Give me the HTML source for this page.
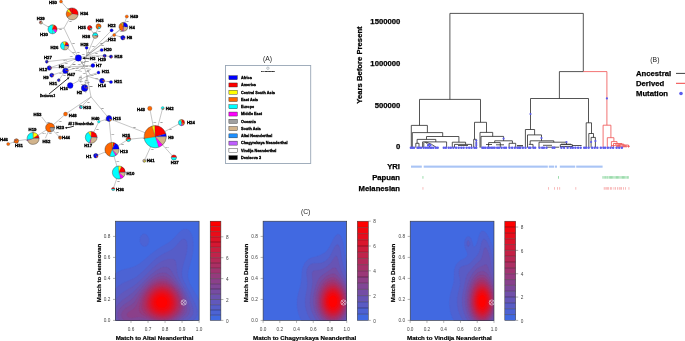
<!DOCTYPE html><html><head><meta charset="utf-8"><style>html,body{margin:0;padding:0;background:#fff;}svg{display:block;will-change:transform}text{font-family:"Liberation Sans",sans-serif;}.tk{font-size:4.7px;fill:#444}.ax{font-size:6.2px;font-weight:bold;fill:#000;stroke:#000;stroke-width:0.2px}.lab{font-size:6.8px;fill:#222}.dn{font-size:7.7px;font-weight:bold;fill:#000;stroke:#000;stroke-width:0.25px}.nl{font-size:4.3px;font-weight:bold;fill:#000;stroke:#000;stroke-width:0.36px}.mu{font-size:2.3px;fill:#555;font-weight:bold}.tiny{font-size:2.9px;font-weight:bold;fill:#000;stroke:#000;stroke-width:0.28px}.lg{font-size:3.8px;font-weight:bold;fill:#000;stroke:#000;stroke-width:0.3px}</style></head><body><svg width="685" height="341" viewBox="0 0 685 341"><rect width="685" height="341" fill="#fff"/>
<rect x="115.5" y="221.2" width="83.60" height="99.20" fill="#4169e1"/>
<clipPath id="cp115"><rect x="115.5" y="221.2" width="83.60" height="99.20"/></clipPath><g clip-path="url(#cp115)">
<path d="M199.5,320.7 166.5,321.0 115.5,320.9 115.3,320.7 115.2,314.7 115.5,273.6 118.5,271.6 121.5,270.2 124.5,269.2 130.5,267.7 133.0,267.0 135.5,266.0 138.0,264.6 140.0,263.3 142.0,261.7 150.5,254.4 155.0,250.9 160.0,247.5 168.0,242.9 171.0,240.8 174.0,238.1 179.0,232.6 181.5,230.4 183.5,229.4 185.0,229.0 186.5,229.0 188.0,229.6 189.0,230.3 190.2,231.7 191.1,233.2 192.0,235.2 192.5,237.2 193.0,239.7 193.3,242.2 193.4,245.2 193.2,250.2 192.4,255.2 191.4,259.7 189.0,268.2 188.2,271.7 187.9,274.7 188.0,277.2 188.4,279.2 188.8,280.7 189.5,282.5 190.5,284.7 194.0,291.1 199.5,300.4 199.6,311.7 199.5,320.7ZM146.0,246.2 145.5,246.4 144.5,246.5 143.5,246.3 142.5,245.8 141.5,244.9 141.0,244.2 140.5,243.2 140.0,241.7 139.9,240.7 139.9,239.2 140.2,237.7 140.5,236.7 141.1,235.7 142.0,234.7 142.5,234.3 143.5,233.9 144.0,233.8 145.0,233.9 146.0,234.3 146.6,234.7 147.1,235.2 147.8,236.2 148.3,237.2 148.7,238.7 148.8,239.7 148.8,241.2 148.4,243.2 148.0,244.1 147.5,244.9 146.8,245.7 146.0,246.2Z" fill="#4c63d4" stroke="#4c63d4" stroke-width="0.3"/>
<path d="M192.5,320.7 164.5,321.0 115.5,320.9 115.3,320.7 115.3,314.7 115.5,288.6 118.5,285.9 121.5,283.9 124.5,282.4 132.5,279.1 135.0,277.7 137.0,276.4 139.0,274.8 141.5,272.6 151.0,263.1 154.0,260.3 156.5,258.3 159.0,256.5 162.0,254.6 164.5,253.3 170.0,250.6 171.5,249.8 173.0,248.8 175.5,246.5 180.0,241.2 181.0,240.2 182.0,239.5 183.5,238.9 184.5,239.0 185.0,239.2 185.5,239.6 186.0,240.2 186.6,241.2 187.0,242.4 187.4,245.2 187.3,248.2 186.9,251.2 186.3,254.2 183.4,264.2 182.4,268.2 181.9,271.7 182.0,274.7 182.5,277.7 183.6,280.7 185.1,283.7 189.6,292.2 194.9,303.2 196.4,306.7 197.1,309.2 197.4,311.2 197.4,312.7 197.2,314.2 196.7,315.7 196.0,317.2 194.9,318.7 193.4,320.2 192.8,320.7 192.5,320.7Z" fill="#565dc8" stroke="#565dc8" stroke-width="0.3"/>
<path d="M185.5,320.7 163.0,321.0 126.5,320.9 115.5,320.8 115.4,314.7 115.5,299.8 117.0,297.9 118.5,296.2 120.0,294.8 121.9,293.2 125.0,291.1 132.5,286.7 135.0,284.9 137.5,282.9 142.0,278.8 152.5,268.4 155.5,265.7 158.0,263.8 160.0,262.4 162.0,261.3 164.0,260.4 166.0,259.7 168.0,259.2 170.0,259.0 172.0,259.0 173.3,259.2 174.4,259.7 175.0,260.2 175.5,260.9 176.0,262.2 176.3,264.2 176.7,269.7 177.0,272.2 177.6,274.7 178.4,277.2 180.1,280.7 184.8,288.7 187.4,293.7 188.9,297.2 191.2,303.2 192.3,306.2 193.0,308.7 193.2,310.7 193.1,312.7 192.8,314.2 192.0,315.7 190.9,317.2 189.5,318.4 187.5,319.7 185.5,320.7Z" fill="#6158bc" stroke="#6158bc" stroke-width="0.3"/>
<path d="M180.5,320.7 162.0,320.9 126.5,320.8 116.1,320.7 115.5,319.8 115.5,308.4 116.5,306.7 117.5,305.2 119.0,303.4 120.5,301.9 123.0,299.8 129.5,295.2 133.0,292.4 136.5,289.1 146.5,278.9 150.0,275.6 153.0,273.1 157.0,270.1 159.0,268.9 160.5,268.2 162.0,267.6 163.5,267.2 165.0,267.1 166.5,267.2 167.5,267.5 168.5,268.0 169.5,268.7 170.5,269.9 171.5,271.3 175.5,278.2 182.5,288.7 184.4,292.2 186.0,295.7 187.3,299.2 188.8,304.2 189.5,307.2 189.8,309.7 189.6,311.7 189.0,313.7 188.4,314.7 187.6,315.7 186.0,317.2 183.8,318.7 180.5,320.7Z" fill="#6b52af" stroke="#6b52af" stroke-width="0.3"/>
<path d="M176.5,320.7 162.0,320.9 120.0,320.7 118.9,319.2 118.0,317.4 117.6,315.7 117.7,313.7 118.0,312.1 118.8,310.2 119.8,308.7 121.0,307.2 123.5,305.0 130.0,300.7 132.5,298.6 135.0,295.8 139.8,289.7 142.8,286.2 146.0,282.8 149.0,280.0 151.5,277.9 153.5,276.5 155.5,275.2 157.5,274.1 159.5,273.3 161.0,272.9 162.5,272.7 164.0,272.7 165.5,273.1 166.5,273.4 168.0,274.3 169.5,275.5 171.0,276.9 173.0,279.0 177.5,284.5 180.5,288.7 182.8,292.7 184.6,296.7 186.0,301.2 186.8,305.2 187.1,308.2 186.9,310.7 186.2,312.7 184.8,314.7 182.8,316.7 180.9,318.2 178.6,319.7 177.0,320.7 176.5,320.7Z" fill="#764ca2" stroke="#764ca2" stroke-width="0.3"/>
<path d="M173.5,320.7 161.5,320.8 145.9,320.7 143.5,320.3 141.5,320.2 139.5,320.2 136.7,320.7 125.4,320.7 123.8,319.7 123.0,319.0 122.3,318.2 121.8,317.2 121.5,316.2 121.4,315.2 121.4,314.2 121.9,312.7 122.4,311.7 123.1,310.7 124.0,309.7 125.2,308.7 126.5,307.8 131.5,304.7 133.0,303.5 134.0,302.5 135.5,300.5 139.7,293.7 142.2,290.2 145.5,286.2 149.0,282.8 151.0,281.1 153.0,279.6 155.0,278.4 157.0,277.4 158.5,276.9 160.5,276.4 162.0,276.3 163.5,276.3 165.0,276.6 166.5,277.2 168.0,278.0 169.5,279.0 171.0,280.1 173.0,282.0 176.5,285.8 179.4,289.7 181.5,293.2 183.2,297.2 184.3,301.2 184.9,304.7 185.0,307.7 184.6,310.2 183.8,312.2 183.0,313.5 182.1,314.7 180.0,316.7 176.5,319.2 173.9,320.7 173.5,320.7Z" fill="#804696" stroke="#804696" stroke-width="0.3"/>
<path d="M170.5,320.7 151.9,320.7 143.5,317.9 140.0,317.1 137.5,317.0 132.5,317.7 131.0,317.8 130.0,317.7 128.5,317.2 127.7,316.7 127.1,315.7 127.0,314.7 127.1,314.2 127.5,313.3 128.5,312.2 129.9,311.2 133.0,309.3 134.0,308.5 135.1,307.2 136.5,305.1 140.1,297.2 142.3,293.2 145.2,289.2 148.4,285.7 150.0,284.2 152.0,282.6 154.0,281.3 156.0,280.2 158.0,279.5 160.0,279.0 162.0,278.8 163.5,278.9 165.0,279.2 166.5,279.8 168.0,280.5 169.5,281.4 171.0,282.5 173.0,284.2 176.0,287.4 177.5,289.3 178.8,291.2 180.7,294.7 182.1,298.2 182.6,300.2 183.0,302.2 183.3,305.2 183.1,308.2 182.4,310.7 181.4,312.7 179.5,315.0 176.9,317.2 173.5,319.4 171.5,320.4 170.5,320.7Z" fill="#8b408a" stroke="#8b408a" stroke-width="0.3"/>
<path d="M166.0,320.7 157.1,320.7 154.0,319.9 151.0,318.9 146.1,316.7 143.4,315.2 141.9,314.2 140.7,313.2 139.9,312.2 139.5,311.2 139.2,310.2 139.2,308.2 139.4,306.2 139.9,303.7 140.8,300.7 141.7,298.2 142.8,295.7 143.9,293.7 145.2,291.7 146.7,289.7 148.5,287.7 150.5,285.8 152.5,284.3 154.5,283.0 156.5,282.0 158.0,281.5 160.0,281.0 162.0,280.9 163.5,281.0 165.0,281.3 166.5,281.8 168.0,282.5 170.0,283.7 171.5,284.8 173.5,286.6 175.0,288.2 176.6,290.2 178.0,292.2 179.0,294.0 180.0,296.2 180.8,298.2 181.3,300.2 181.7,302.2 181.8,304.2 181.8,305.7 181.7,307.2 181.4,308.7 180.4,311.2 179.5,312.6 178.7,313.7 177.5,314.9 176.0,316.2 173.0,318.2 171.5,319.0 169.5,319.8 167.5,320.5 166.0,320.7Z" fill="#953a7d" stroke="#953a7d" stroke-width="0.3"/>
<path d="M165.5,319.7 162.0,320.0 160.0,319.9 158.0,319.7 154.2,318.7 150.5,317.2 147.0,315.2 145.7,314.2 144.6,313.2 143.7,312.2 142.8,310.7 142.4,309.7 142.0,308.2 141.8,306.7 141.9,304.7 142.2,302.7 142.8,300.2 143.4,298.2 144.3,296.2 145.3,294.2 146.6,292.2 148.0,290.4 149.5,288.7 151.1,287.2 153.0,285.7 155.0,284.5 156.5,283.7 158.5,283.1 160.0,282.8 162.0,282.6 163.5,282.7 165.0,283.0 166.5,283.5 168.0,284.2 169.5,285.1 171.0,286.2 172.5,287.4 174.0,288.9 175.5,290.7 176.6,292.2 177.8,294.2 178.5,295.7 179.3,297.7 179.9,299.7 180.3,301.7 180.5,304.7 180.4,306.2 180.1,307.7 179.3,310.2 178.4,311.7 177.5,312.9 176.3,314.2 175.0,315.4 173.5,316.5 172.0,317.4 169.0,318.8 167.5,319.3 165.5,319.7Z" fill="#a03470" stroke="#a03470" stroke-width="0.3"/>
<path d="M164.5,318.7 163.0,318.8 161.0,318.8 157.5,318.4 154.0,317.3 150.6,315.7 149.1,314.7 147.8,313.7 145.9,311.7 145.2,310.7 144.5,309.2 144.1,308.2 143.8,306.7 143.7,305.2 143.8,303.2 144.1,301.2 144.7,299.2 145.4,297.2 146.1,295.7 147.2,293.7 148.2,292.2 149.5,290.6 151.0,289.1 152.5,287.8 154.0,286.7 155.5,285.8 157.0,285.1 159.0,284.5 160.5,284.3 162.0,284.2 163.5,284.3 165.0,284.6 166.5,285.1 168.0,285.8 169.5,286.7 171.0,287.8 172.5,289.1 174.0,290.7 175.0,292.0 176.2,293.7 177.0,295.2 177.7,296.7 178.4,298.7 178.8,300.2 179.1,302.2 179.2,305.2 178.7,307.7 177.7,310.2 177.0,311.4 176.0,312.7 175.0,313.8 173.5,315.0 170.9,316.7 168.0,317.9 166.5,318.3 164.5,318.7Z" fill="#ab2f64" stroke="#ab2f64" stroke-width="0.3"/>
<path d="M163.0,317.7 160.0,317.6 158.0,317.3 156.5,316.9 153.5,315.8 150.8,314.2 149.5,313.2 148.4,312.2 146.9,310.2 146.4,309.2 145.8,307.7 145.4,305.2 145.5,302.2 145.7,300.7 146.3,298.7 147.0,296.7 147.8,295.2 148.7,293.7 149.8,292.2 152.2,289.7 153.5,288.6 155.0,287.6 156.5,286.8 158.0,286.3 159.5,285.9 161.0,285.7 162.5,285.7 164.0,285.8 166.5,286.6 168.0,287.3 169.5,288.2 172.0,290.3 173.3,291.7 174.5,293.2 176.2,296.2 177.4,299.2 177.8,301.2 178.0,302.7 178.0,304.2 177.8,305.7 177.2,308.2 176.5,309.7 175.9,310.7 174.3,312.7 173.3,313.7 172.0,314.7 170.5,315.6 169.0,316.3 166.0,317.3 163.0,317.7Z" fill="#b52958" stroke="#b52958" stroke-width="0.3"/>
<path d="M165.5,316.3 162.5,316.6 159.5,316.4 156.5,315.7 155.0,315.1 153.5,314.4 151.0,312.7 149.9,311.7 149.1,310.7 147.9,308.7 147.5,307.7 147.0,306.2 146.8,304.7 146.8,303.2 147.2,300.2 148.2,297.2 149.0,295.7 149.9,294.2 151.9,291.7 154.2,289.7 155.5,288.8 157.0,288.1 159.5,287.3 161.0,287.1 162.5,287.1 165.0,287.5 167.5,288.5 170.0,290.1 172.2,292.2 174.1,294.7 175.4,297.2 176.4,300.2 176.7,301.7 176.8,303.2 176.6,305.7 175.8,308.2 174.8,310.2 173.1,312.2 171.0,313.9 168.5,315.3 167.0,315.9 165.5,316.3Z" fill="#c0234b" stroke="#c0234b" stroke-width="0.3"/>
<path d="M165.0,315.2 162.5,315.5 159.5,315.3 157.0,314.6 154.5,313.5 152.5,312.2 151.4,311.2 150.5,310.2 149.3,308.2 148.8,307.2 148.4,305.7 148.2,303.2 148.3,301.7 148.6,300.2 149.0,298.7 149.6,297.2 151.0,294.8 153.0,292.4 155.0,290.7 157.5,289.3 160.0,288.6 162.5,288.4 165.0,288.9 167.5,289.9 169.5,291.3 171.5,293.2 173.4,295.7 174.6,298.2 175.3,300.7 175.5,303.2 175.3,305.7 174.7,307.7 173.5,309.8 171.9,311.7 170.0,313.2 167.5,314.5 165.0,315.2Z" fill="#ca1d3e" stroke="#ca1d3e" stroke-width="0.3"/>
<path d="M163.5,314.2 161.0,314.3 158.5,313.8 156.0,312.9 154.0,311.7 152.3,310.2 150.9,308.2 150.0,306.2 149.6,304.2 149.7,301.7 150.2,299.2 151.3,296.7 152.6,294.7 154.5,292.7 156.5,291.3 158.5,290.4 159.5,290.1 161.0,289.8 162.5,289.8 163.5,289.9 165.5,290.4 167.5,291.4 169.5,292.9 171.2,294.7 172.5,296.7 173.6,299.2 174.2,301.7 174.2,304.2 173.8,306.2 173.0,308.2 171.5,310.2 169.9,311.7 168.0,312.9 166.0,313.7 163.5,314.2Z" fill="#d51732" stroke="#d51732" stroke-width="0.3"/>
<path d="M164.5,312.8 162.5,313.0 160.0,312.8 158.0,312.3 156.0,311.4 154.3,310.2 152.9,308.7 152.0,307.2 151.3,305.2 151.0,303.2 151.2,300.7 151.8,298.7 152.8,296.7 154.4,294.7 156.0,293.2 158.0,292.1 160.0,291.4 162.0,291.2 164.0,291.4 166.0,292.1 167.8,293.2 169.5,294.7 171.0,296.7 172.0,298.7 172.6,300.7 172.9,302.7 172.7,304.7 172.1,306.7 171.3,308.2 170.1,309.7 168.5,311.1 166.5,312.1 164.5,312.8Z" fill="#df1226" stroke="#df1226" stroke-width="0.3"/>
<path d="M164.5,311.3 162.5,311.6 160.5,311.5 158.5,311.0 157.0,310.3 155.5,309.2 154.1,307.7 153.2,306.2 152.7,304.7 152.5,303.2 152.6,301.2 153.2,299.2 154.0,297.5 155.0,296.1 156.5,294.7 158.0,293.7 160.0,293.0 162.0,292.7 163.5,292.9 165.0,293.4 166.6,294.2 168.0,295.3 169.3,296.7 170.4,298.7 171.0,300.3 171.3,302.2 171.3,303.7 170.8,305.7 170.1,307.2 169.0,308.7 167.8,309.7 166.1,310.7 164.5,311.3Z" fill="#ea0c19" stroke="#ea0c19" stroke-width="0.3"/>
<path d="M163.5,309.7 162.0,309.9 160.5,309.8 159.0,309.4 157.7,308.7 156.5,307.8 155.5,306.7 154.9,305.7 154.4,304.2 154.2,302.7 154.4,301.2 154.8,299.7 155.5,298.2 156.7,296.7 158.0,295.7 159.0,295.1 160.5,294.7 162.0,294.5 163.5,294.7 164.9,295.2 166.0,295.9 167.0,296.7 168.2,298.2 169.0,299.7 169.4,301.2 169.5,302.7 169.3,304.2 169.0,305.3 168.2,306.7 167.4,307.7 166.1,308.7 165.0,309.3 163.5,309.7Z" fill="#f4060c" stroke="#f4060c" stroke-width="0.3"/>
<path d="M163.5,307.3 162.0,307.6 161.0,307.6 160.0,307.4 159.0,306.9 158.0,306.2 157.5,305.6 156.9,304.7 156.6,303.7 156.4,302.7 156.4,301.7 156.7,300.7 157.1,299.7 157.8,298.7 158.5,298.0 159.5,297.3 160.5,297.0 161.5,296.8 162.5,296.9 163.5,297.1 164.5,297.6 165.2,298.2 166.0,299.1 166.8,300.7 167.0,301.7 167.0,302.7 166.9,303.7 166.5,304.7 166.0,305.5 165.4,306.2 164.5,306.9 163.5,307.3Z" fill="#ff0000" stroke="#ff0000" stroke-width="0.3"/>
</g>
<rect x="115.5" y="221.2" width="83.60" height="99.20" fill="none" stroke="#333" stroke-width="0.6"/>
<rect x="210.2" y="315.17" width="10.700000000000017" height="5.23" fill="#4169e1"/>
<rect x="210.2" y="309.95" width="10.700000000000017" height="5.22" fill="#4c63d4"/>
<rect x="210.2" y="304.72" width="10.700000000000017" height="5.23" fill="#565dc8"/>
<rect x="210.2" y="299.50" width="10.700000000000017" height="5.22" fill="#6158bc"/>
<rect x="210.2" y="294.27" width="10.700000000000017" height="5.23" fill="#6b52af"/>
<rect x="210.2" y="289.05" width="10.700000000000017" height="5.23" fill="#764ca2"/>
<rect x="210.2" y="283.82" width="10.700000000000017" height="5.22" fill="#804696"/>
<rect x="210.2" y="278.60" width="10.700000000000017" height="5.23" fill="#8b408a"/>
<rect x="210.2" y="273.38" width="10.700000000000017" height="5.22" fill="#953a7d"/>
<rect x="210.2" y="268.15" width="10.700000000000017" height="5.23" fill="#a03470"/>
<rect x="210.2" y="262.92" width="10.700000000000017" height="5.23" fill="#ab2f64"/>
<rect x="210.2" y="257.70" width="10.700000000000017" height="5.22" fill="#b52958"/>
<rect x="210.2" y="252.47" width="10.700000000000017" height="5.23" fill="#c0234b"/>
<rect x="210.2" y="247.25" width="10.700000000000017" height="5.22" fill="#ca1d3e"/>
<rect x="210.2" y="242.02" width="10.700000000000017" height="5.23" fill="#d51732"/>
<rect x="210.2" y="236.80" width="10.700000000000017" height="5.22" fill="#df1226"/>
<rect x="210.2" y="231.57" width="10.700000000000017" height="5.22" fill="#ea0c19"/>
<rect x="210.2" y="226.35" width="10.700000000000017" height="5.23" fill="#f4060c"/>
<rect x="210.2" y="221.12" width="10.700000000000017" height="5.22" fill="#ff0000"/>
<line x1="210.2" x2="220.9" y1="315.17" y2="315.17" stroke="#000" stroke-opacity="0.55" stroke-width="0.6"/>
<line x1="210.2" x2="220.9" y1="309.95" y2="309.95" stroke="#000" stroke-opacity="0.55" stroke-width="0.6"/>
<line x1="210.2" x2="220.9" y1="304.72" y2="304.72" stroke="#000" stroke-opacity="0.55" stroke-width="0.6"/>
<line x1="210.2" x2="220.9" y1="299.50" y2="299.50" stroke="#000" stroke-opacity="0.55" stroke-width="0.6"/>
<line x1="210.2" x2="220.9" y1="294.27" y2="294.27" stroke="#000" stroke-opacity="0.55" stroke-width="0.6"/>
<line x1="210.2" x2="220.9" y1="289.05" y2="289.05" stroke="#000" stroke-opacity="0.55" stroke-width="0.6"/>
<line x1="210.2" x2="220.9" y1="283.82" y2="283.82" stroke="#000" stroke-opacity="0.55" stroke-width="0.6"/>
<line x1="210.2" x2="220.9" y1="278.60" y2="278.60" stroke="#000" stroke-opacity="0.55" stroke-width="0.6"/>
<line x1="210.2" x2="220.9" y1="273.38" y2="273.38" stroke="#000" stroke-opacity="0.55" stroke-width="0.6"/>
<line x1="210.2" x2="220.9" y1="268.15" y2="268.15" stroke="#000" stroke-opacity="0.55" stroke-width="0.6"/>
<line x1="210.2" x2="220.9" y1="262.92" y2="262.92" stroke="#000" stroke-opacity="0.55" stroke-width="0.6"/>
<line x1="210.2" x2="220.9" y1="257.70" y2="257.70" stroke="#000" stroke-opacity="0.55" stroke-width="0.6"/>
<line x1="210.2" x2="220.9" y1="252.47" y2="252.47" stroke="#000" stroke-opacity="0.55" stroke-width="0.6"/>
<line x1="210.2" x2="220.9" y1="247.25" y2="247.25" stroke="#000" stroke-opacity="0.55" stroke-width="0.6"/>
<line x1="210.2" x2="220.9" y1="242.02" y2="242.02" stroke="#000" stroke-opacity="0.55" stroke-width="0.6"/>
<line x1="210.2" x2="220.9" y1="236.80" y2="236.80" stroke="#000" stroke-opacity="0.55" stroke-width="0.6"/>
<line x1="210.2" x2="220.9" y1="231.57" y2="231.57" stroke="#000" stroke-opacity="0.55" stroke-width="0.6"/>
<line x1="210.2" x2="220.9" y1="226.35" y2="226.35" stroke="#000" stroke-opacity="0.55" stroke-width="0.6"/>
<rect x="210.2" y="221.2" width="10.700000000000017" height="99.19999999999999" fill="none" stroke="#333" stroke-width="0.5"/>
<line x1="220.9" x2="223.4" y1="320.40" y2="320.40" stroke="#666" stroke-width="0.5"/>
<text x="225.9" y="322.60" class="tk">0</text>
<line x1="220.9" x2="223.4" y1="299.50" y2="299.50" stroke="#666" stroke-width="0.5"/>
<text x="225.9" y="301.70" class="tk">2</text>
<line x1="220.9" x2="223.4" y1="278.60" y2="278.60" stroke="#666" stroke-width="0.5"/>
<text x="225.9" y="280.80" class="tk">4</text>
<line x1="220.9" x2="223.4" y1="257.70" y2="257.70" stroke="#666" stroke-width="0.5"/>
<text x="225.9" y="259.90" class="tk">6</text>
<line x1="220.9" x2="223.4" y1="236.80" y2="236.80" stroke="#666" stroke-width="0.5"/>
<text x="225.9" y="239.00" class="tk">8</text>
<line x1="130.99" x2="130.99" y1="320.4" y2="322.9" stroke="#666" stroke-width="0.5"/>
<text x="130.99" y="330.5" class="tk" text-anchor="middle">0.6</text>
<line x1="148.02" x2="148.02" y1="320.4" y2="322.9" stroke="#666" stroke-width="0.5"/>
<text x="148.02" y="330.5" class="tk" text-anchor="middle">0.7</text>
<line x1="165.05" x2="165.05" y1="320.4" y2="322.9" stroke="#666" stroke-width="0.5"/>
<text x="165.05" y="330.5" class="tk" text-anchor="middle">0.8</text>
<line x1="182.07" x2="182.07" y1="320.4" y2="322.9" stroke="#666" stroke-width="0.5"/>
<text x="182.07" y="330.5" class="tk" text-anchor="middle">0.9</text>
<line x1="199.10" x2="199.10" y1="320.4" y2="322.9" stroke="#666" stroke-width="0.5"/>
<text x="199.10" y="330.5" class="tk" text-anchor="middle">1.0</text>
<line x1="113.0" x2="115.5" y1="320.40" y2="320.40" stroke="#666" stroke-width="0.5"/>
<text x="110.3" y="322.00" class="tk" text-anchor="end">0.0</text>
<line x1="113.0" x2="115.5" y1="299.41" y2="299.41" stroke="#666" stroke-width="0.5"/>
<text x="110.3" y="301.01" class="tk" text-anchor="end">0.2</text>
<line x1="113.0" x2="115.5" y1="278.41" y2="278.41" stroke="#666" stroke-width="0.5"/>
<text x="110.3" y="280.01" class="tk" text-anchor="end">0.4</text>
<line x1="113.0" x2="115.5" y1="257.42" y2="257.42" stroke="#666" stroke-width="0.5"/>
<text x="110.3" y="259.02" class="tk" text-anchor="end">0.6</text>
<line x1="113.0" x2="115.5" y1="236.42" y2="236.42" stroke="#666" stroke-width="0.5"/>
<text x="110.3" y="238.02" class="tk" text-anchor="end">0.8</text>
<text x="154.60" y="339.6" class="ax" text-anchor="middle">Match to Altai Neanderthal</text>
<text transform="translate(100.6,273.0) rotate(-90)" class="ax" text-anchor="middle">Match to Denisovan</text>
<g stroke="#e8e8f0" stroke-width="0.6" fill="none"><circle cx="183.7" cy="302.5" r="2.6"/><path d="M181.89999999999998,300.7L185.5,304.3M181.89999999999998,304.3L185.5,300.7"/></g>
<rect x="263.1" y="221.2" width="83.60" height="99.20" fill="#4169e1"/>
<clipPath id="cp263"><rect x="263.1" y="221.2" width="83.60" height="99.20"/></clipPath><g clip-path="url(#cp263)">
<path d="M347.1,320.9 329.6,321.0 301.4,320.7 300.0,317.7 298.6,314.2 297.7,310.7 297.2,307.2 297.0,304.7 297.0,302.2 297.2,299.2 297.5,296.7 298.3,293.2 300.4,285.7 301.0,282.7 301.4,279.7 301.8,272.7 302.2,269.7 302.7,267.7 303.2,266.2 304.4,263.7 305.4,262.2 306.6,260.9 308.1,259.6 309.6,258.6 312.1,257.6 317.3,256.2 320.0,255.2 323.1,253.6 324.6,252.7 325.8,251.7 327.6,249.8 329.1,247.6 333.1,239.7 334.6,237.1 335.6,235.8 336.6,234.9 337.6,234.3 338.1,234.2 339.1,234.4 340.1,235.2 341.1,236.7 342.1,239.2 343.2,243.7 345.1,255.2 346.1,259.0 347.1,261.9 347.4,301.7 347.3,319.7 347.3,320.7 347.1,320.9Z" fill="#4e62d2" stroke="#4e62d2" stroke-width="0.3"/>
<path d="M347.1,320.7 332.1,321.0 311.2,320.7 309.0,317.2 307.3,313.7 306.2,310.2 305.4,306.2 305.1,302.2 305.3,298.2 305.8,294.7 307.1,287.7 307.4,284.2 307.3,281.2 306.6,275.2 306.5,272.2 306.9,269.7 307.7,267.7 308.6,266.2 309.5,265.2 310.6,264.4 311.6,263.9 312.6,263.6 314.1,263.4 318.6,263.3 321.1,263.0 323.6,262.1 326.1,260.6 327.7,259.2 329.3,257.2 330.8,254.7 333.6,248.9 334.6,247.1 335.6,245.7 336.1,245.2 337.1,244.6 337.6,244.6 338.1,244.9 338.6,245.3 339.1,246.1 339.6,247.3 340.5,250.7 342.0,260.2 343.0,264.7 344.5,269.2 347.1,275.1 347.4,301.7 347.3,313.2 347.1,320.7Z" fill="#5a5bc3" stroke="#5a5bc3" stroke-width="0.3"/>
<path d="M345.1,320.7 332.6,320.9 316.9,320.7 315.7,319.2 314.4,317.2 312.6,313.7 311.8,311.7 311.2,309.7 310.3,305.7 310.0,302.2 310.1,298.7 310.5,294.7 312.1,286.2 312.5,283.2 312.5,279.7 312.0,274.2 312.2,272.7 312.6,271.8 313.1,271.2 313.6,270.8 314.6,270.5 318.6,270.2 321.1,269.6 323.6,268.5 326.1,267.1 328.1,265.6 329.6,264.2 331.3,262.2 334.6,257.3 335.6,256.4 336.1,256.2 336.6,256.4 336.9,256.7 337.6,257.9 338.1,259.4 339.9,266.7 341.5,271.2 342.6,273.7 345.6,279.4 347.1,282.5 347.3,301.7 347.1,318.2 345.5,320.7 345.1,320.7Z" fill="#6754b4" stroke="#6754b4" stroke-width="0.3"/>
<path d="M342.6,320.7 332.6,320.9 320.8,320.7 319.4,319.2 318.3,317.7 317.3,316.2 316.2,314.2 315.3,312.2 314.6,310.2 313.9,307.7 313.6,305.7 313.2,302.7 313.2,299.7 313.4,296.7 313.8,293.7 314.7,289.7 315.9,285.7 316.9,282.7 318.1,280.0 318.9,278.7 320.0,277.2 321.1,276.1 322.8,274.7 332.1,268.5 333.1,268.0 334.1,267.7 335.1,267.8 335.6,268.1 336.1,268.6 337.1,270.0 339.9,274.7 344.2,281.7 345.8,284.7 347.1,287.6 347.2,301.7 347.1,314.4 346.0,316.7 344.7,318.7 343.1,320.7 342.6,320.7Z" fill="#744da5" stroke="#744da5" stroke-width="0.3"/>
<path d="M340.6,320.7 332.6,320.8 323.9,320.7 322.6,319.5 321.4,318.2 320.2,316.7 319.0,314.7 317.9,312.7 317.1,310.7 316.4,308.2 315.9,306.2 315.6,303.7 315.5,301.2 315.5,298.7 315.8,295.7 316.4,292.7 317.2,289.7 318.1,287.2 319.2,284.7 320.3,282.7 321.6,280.9 323.1,279.2 324.6,277.8 326.6,276.3 328.6,275.1 330.6,274.2 332.1,273.8 333.1,273.7 334.1,273.8 335.6,274.5 337.1,275.8 339.6,278.6 342.1,281.9 344.2,285.2 345.8,288.7 347.1,292.3 347.1,310.5 345.9,313.7 344.5,316.2 342.6,318.8 341.6,319.9 340.6,320.7Z" fill="#804696" stroke="#804696" stroke-width="0.3"/>
<path d="M337.6,320.7 327.2,320.7 325.1,319.3 323.6,318.0 322.4,316.7 321.3,315.2 320.1,313.2 319.2,311.2 318.5,309.2 317.9,307.2 317.5,304.7 317.3,302.7 317.3,300.2 317.4,298.2 317.7,295.7 318.2,293.2 318.8,291.2 319.7,288.7 320.7,286.7 321.8,284.7 322.9,283.2 324.1,281.8 325.6,280.4 327.1,279.3 328.6,278.5 330.1,277.8 331.6,277.5 333.1,277.4 334.1,277.6 335.1,278.0 336.1,278.5 337.1,279.2 338.6,280.6 341.1,283.4 343.3,286.7 345.0,290.2 346.2,293.7 347.0,297.7 347.1,298.8 347.0,305.2 346.4,308.7 345.4,311.7 343.9,314.7 342.1,317.2 341.1,318.3 339.6,319.6 338.1,320.6 337.6,320.7Z" fill="#8d3f87" stroke="#8d3f87" stroke-width="0.3"/>
<path d="M334.6,320.3 333.1,320.4 331.6,320.4 330.1,320.1 329.1,319.8 327.8,319.2 326.6,318.5 325.1,317.3 324.0,316.2 322.8,314.7 321.8,313.2 320.4,310.2 319.4,306.7 319.0,304.7 318.8,302.7 318.8,298.7 319.5,294.7 320.0,292.7 320.7,290.7 321.6,288.7 322.4,287.2 323.5,285.7 324.6,284.3 325.7,283.2 327.1,282.1 328.1,281.4 329.6,280.7 331.1,280.3 332.1,280.1 333.6,280.2 334.6,280.5 336.6,281.5 338.1,282.6 339.1,283.6 340.5,285.2 341.6,286.6 343.4,289.7 344.8,293.2 345.7,296.7 346.1,300.2 346.1,303.7 345.6,307.2 344.5,310.7 343.1,313.7 341.3,316.2 340.1,317.4 339.2,318.2 337.1,319.4 336.1,319.9 334.6,320.3Z" fill="#9a3878" stroke="#9a3878" stroke-width="0.3"/>
<path d="M334.6,318.8 333.6,318.9 332.1,318.9 330.6,318.7 329.6,318.4 328.2,317.7 327.1,317.0 325.0,315.2 324.1,314.1 323.1,312.7 321.6,309.7 321.0,307.7 320.6,306.2 320.1,302.7 320.1,300.7 320.2,298.7 320.8,295.2 321.9,291.7 323.4,288.7 325.2,286.2 326.6,284.9 327.6,284.1 329.6,283.0 331.1,282.5 332.1,282.4 333.1,282.4 334.1,282.6 335.1,282.9 336.6,283.7 338.6,285.2 340.7,287.7 342.6,290.7 343.8,293.7 344.6,296.7 345.1,300.2 345.1,303.7 344.6,306.7 343.8,309.7 342.6,312.3 341.1,314.5 340.1,315.7 339.1,316.6 337.1,317.9 336.1,318.3 334.6,318.8Z" fill="#a63169" stroke="#a63169" stroke-width="0.3"/>
<path d="M334.6,317.3 333.6,317.5 332.1,317.5 330.1,317.0 328.1,316.0 327.0,315.2 325.9,314.2 325.0,313.2 324.1,311.8 322.8,309.2 321.8,306.2 321.4,303.2 321.3,299.7 321.8,296.2 322.7,293.2 324.1,290.3 325.6,288.2 326.6,287.1 327.6,286.2 329.6,285.0 331.1,284.5 332.1,284.4 333.1,284.4 334.1,284.5 336.1,285.3 338.1,286.8 340.1,288.9 341.6,291.3 342.9,294.2 343.7,297.2 344.1,300.2 344.1,303.2 343.7,306.2 342.8,309.2 341.6,311.7 340.3,313.7 338.6,315.3 336.6,316.6 334.6,317.3Z" fill="#b32a5a" stroke="#b32a5a" stroke-width="0.3"/>
<path d="M335.1,315.7 333.1,316.1 331.6,315.9 330.6,315.7 328.6,314.7 326.7,313.2 325.2,311.2 323.9,308.7 323.0,306.2 322.5,303.2 322.5,300.2 322.9,297.2 323.7,294.2 324.9,291.7 326.2,289.7 327.1,288.7 328.1,287.8 329.1,287.2 330.1,286.7 331.1,286.3 332.1,286.2 333.1,286.2 334.1,286.3 335.6,286.8 336.6,287.4 337.6,288.2 339.1,289.7 340.6,291.9 341.7,294.2 342.5,296.7 343.1,299.7 343.1,302.7 342.9,305.2 342.3,307.7 341.2,310.2 340.1,312.0 338.6,313.7 337.1,314.8 335.1,315.7Z" fill="#c0234b" stroke="#c0234b" stroke-width="0.3"/>
<path d="M335.1,314.3 334.1,314.5 333.1,314.6 332.1,314.6 331.1,314.3 330.1,314.0 329.1,313.4 327.6,312.2 326.3,310.7 325.1,308.6 324.2,306.2 323.7,303.7 323.6,300.7 323.8,298.2 324.5,295.7 325.5,293.2 326.8,291.2 327.6,290.3 328.6,289.4 330.1,288.5 331.1,288.1 332.1,287.9 333.1,287.9 334.1,288.0 335.6,288.6 337.1,289.6 338.6,291.1 340.0,293.2 341.0,295.2 341.6,297.2 342.0,299.7 342.1,302.2 341.9,304.7 341.5,306.7 340.6,308.9 339.6,310.7 338.1,312.4 336.6,313.6 335.1,314.3Z" fill="#cc1c3c" stroke="#cc1c3c" stroke-width="0.3"/>
<path d="M335.1,312.7 333.6,313.1 332.6,313.1 331.6,312.9 330.1,312.4 328.6,311.3 327.2,309.7 326.1,307.9 325.3,305.7 324.9,303.7 324.7,301.2 325.0,298.7 325.6,296.2 326.4,294.2 327.6,292.4 329.1,290.9 330.6,290.0 332.1,289.6 333.6,289.6 335.1,290.1 336.6,291.0 337.8,292.2 339.1,294.0 339.9,295.7 340.6,297.7 341.0,299.7 341.1,301.7 341.0,303.7 340.6,305.7 339.9,307.7 339.1,309.2 338.0,310.7 336.6,311.9 335.1,312.7Z" fill="#d9152d" stroke="#d9152d" stroke-width="0.3"/>
<path d="M334.1,311.3 332.6,311.4 331.1,311.1 329.6,310.2 328.6,309.3 327.6,307.9 326.8,306.2 326.3,304.7 326.0,302.7 326.0,300.7 326.2,298.7 326.8,296.7 327.6,294.9 328.6,293.5 330.1,292.2 331.1,291.7 332.6,291.4 334.1,291.5 335.1,291.9 336.6,293.0 337.6,294.1 338.6,295.7 339.2,297.2 339.6,298.7 339.9,300.7 339.9,302.7 339.6,304.7 339.1,306.2 338.5,307.7 337.6,309.0 336.6,310.0 335.6,310.7 334.1,311.3Z" fill="#e60e1e" stroke="#e60e1e" stroke-width="0.3"/>
<path d="M334.6,309.2 333.6,309.5 332.1,309.5 331.1,309.1 330.1,308.4 329.0,307.2 328.1,305.7 327.6,304.2 327.3,302.7 327.3,301.2 327.5,299.2 327.9,297.7 328.6,296.2 329.6,294.9 330.4,294.2 331.6,293.5 332.6,293.3 333.6,293.4 334.6,293.7 335.6,294.3 336.5,295.2 337.1,296.1 337.7,297.2 338.2,298.7 338.5,300.2 338.6,301.7 338.5,303.2 338.1,304.7 337.8,305.7 337.3,306.7 336.6,307.7 335.6,308.6 334.6,309.2Z" fill="#f2070f" stroke="#f2070f" stroke-width="0.3"/>
<path d="M334.1,306.8 333.1,307.0 332.6,307.0 331.6,306.7 331.1,306.4 330.3,305.7 329.7,304.7 329.1,302.7 329.0,301.7 329.1,300.2 329.7,298.2 330.3,297.2 331.1,296.4 331.6,296.1 332.6,295.8 333.1,295.7 334.1,296.0 335.1,296.7 336.1,298.2 336.7,300.2 336.8,302.2 336.6,303.2 336.3,304.2 335.4,305.7 334.9,306.2 334.1,306.8Z" fill="#ff0000" stroke="#ff0000" stroke-width="0.3"/>
</g>
<rect x="263.1" y="221.2" width="83.60" height="99.20" fill="none" stroke="#333" stroke-width="0.6"/>
<rect x="357.3" y="314.20" width="11.0" height="6.20" fill="#4169e1"/>
<rect x="357.3" y="308.00" width="11.0" height="6.20" fill="#4e62d2"/>
<rect x="357.3" y="301.80" width="11.0" height="6.20" fill="#5a5bc3"/>
<rect x="357.3" y="295.60" width="11.0" height="6.20" fill="#6754b4"/>
<rect x="357.3" y="289.40" width="11.0" height="6.20" fill="#744da5"/>
<rect x="357.3" y="283.20" width="11.0" height="6.20" fill="#804696"/>
<rect x="357.3" y="277.00" width="11.0" height="6.20" fill="#8d3f87"/>
<rect x="357.3" y="270.80" width="11.0" height="6.20" fill="#9a3878"/>
<rect x="357.3" y="264.60" width="11.0" height="6.20" fill="#a63169"/>
<rect x="357.3" y="258.40" width="11.0" height="6.20" fill="#b32a5a"/>
<rect x="357.3" y="252.20" width="11.0" height="6.20" fill="#c0234b"/>
<rect x="357.3" y="246.00" width="11.0" height="6.20" fill="#cc1c3c"/>
<rect x="357.3" y="239.80" width="11.0" height="6.20" fill="#d9152d"/>
<rect x="357.3" y="233.60" width="11.0" height="6.20" fill="#e60e1e"/>
<rect x="357.3" y="227.40" width="11.0" height="6.20" fill="#f2070f"/>
<rect x="357.3" y="221.20" width="11.0" height="6.20" fill="#ff0000"/>
<line x1="357.3" x2="368.3" y1="314.20" y2="314.20" stroke="#000" stroke-opacity="0.55" stroke-width="0.6"/>
<line x1="357.3" x2="368.3" y1="308.00" y2="308.00" stroke="#000" stroke-opacity="0.55" stroke-width="0.6"/>
<line x1="357.3" x2="368.3" y1="301.80" y2="301.80" stroke="#000" stroke-opacity="0.55" stroke-width="0.6"/>
<line x1="357.3" x2="368.3" y1="295.60" y2="295.60" stroke="#000" stroke-opacity="0.55" stroke-width="0.6"/>
<line x1="357.3" x2="368.3" y1="289.40" y2="289.40" stroke="#000" stroke-opacity="0.55" stroke-width="0.6"/>
<line x1="357.3" x2="368.3" y1="283.20" y2="283.20" stroke="#000" stroke-opacity="0.55" stroke-width="0.6"/>
<line x1="357.3" x2="368.3" y1="277.00" y2="277.00" stroke="#000" stroke-opacity="0.55" stroke-width="0.6"/>
<line x1="357.3" x2="368.3" y1="270.80" y2="270.80" stroke="#000" stroke-opacity="0.55" stroke-width="0.6"/>
<line x1="357.3" x2="368.3" y1="264.60" y2="264.60" stroke="#000" stroke-opacity="0.55" stroke-width="0.6"/>
<line x1="357.3" x2="368.3" y1="258.40" y2="258.40" stroke="#000" stroke-opacity="0.55" stroke-width="0.6"/>
<line x1="357.3" x2="368.3" y1="252.20" y2="252.20" stroke="#000" stroke-opacity="0.55" stroke-width="0.6"/>
<line x1="357.3" x2="368.3" y1="246.00" y2="246.00" stroke="#000" stroke-opacity="0.55" stroke-width="0.6"/>
<line x1="357.3" x2="368.3" y1="239.80" y2="239.80" stroke="#000" stroke-opacity="0.55" stroke-width="0.6"/>
<line x1="357.3" x2="368.3" y1="233.60" y2="233.60" stroke="#000" stroke-opacity="0.55" stroke-width="0.6"/>
<line x1="357.3" x2="368.3" y1="227.40" y2="227.40" stroke="#000" stroke-opacity="0.55" stroke-width="0.6"/>
<rect x="357.3" y="221.2" width="11.0" height="99.19999999999999" fill="none" stroke="#333" stroke-width="0.5"/>
<line x1="368.3" x2="370.8" y1="320.40" y2="320.40" stroke="#666" stroke-width="0.5"/>
<text x="373.3" y="322.60" class="tk">0</text>
<line x1="368.3" x2="370.8" y1="295.60" y2="295.60" stroke="#666" stroke-width="0.5"/>
<text x="373.3" y="297.80" class="tk">2</text>
<line x1="368.3" x2="370.8" y1="270.80" y2="270.80" stroke="#666" stroke-width="0.5"/>
<text x="373.3" y="273.00" class="tk">4</text>
<line x1="368.3" x2="370.8" y1="246.00" y2="246.00" stroke="#666" stroke-width="0.5"/>
<text x="373.3" y="248.20" class="tk">6</text>
<line x1="368.3" x2="370.8" y1="221.20" y2="221.20" stroke="#666" stroke-width="0.5"/>
<text x="373.3" y="223.40" class="tk">8</text>
<line x1="263.10" x2="263.10" y1="320.4" y2="322.9" stroke="#666" stroke-width="0.5"/>
<text x="263.10" y="330.5" class="tk" text-anchor="middle">0.0</text>
<line x1="279.82" x2="279.82" y1="320.4" y2="322.9" stroke="#666" stroke-width="0.5"/>
<text x="279.82" y="330.5" class="tk" text-anchor="middle">0.2</text>
<line x1="296.54" x2="296.54" y1="320.4" y2="322.9" stroke="#666" stroke-width="0.5"/>
<text x="296.54" y="330.5" class="tk" text-anchor="middle">0.4</text>
<line x1="313.26" x2="313.26" y1="320.4" y2="322.9" stroke="#666" stroke-width="0.5"/>
<text x="313.26" y="330.5" class="tk" text-anchor="middle">0.6</text>
<line x1="329.98" x2="329.98" y1="320.4" y2="322.9" stroke="#666" stroke-width="0.5"/>
<text x="329.98" y="330.5" class="tk" text-anchor="middle">0.8</text>
<line x1="346.70" x2="346.70" y1="320.4" y2="322.9" stroke="#666" stroke-width="0.5"/>
<text x="346.70" y="330.5" class="tk" text-anchor="middle">1.0</text>
<line x1="260.6" x2="263.1" y1="320.40" y2="320.40" stroke="#666" stroke-width="0.5"/>
<text x="257.90000000000003" y="322.00" class="tk" text-anchor="end">0.0</text>
<line x1="260.6" x2="263.1" y1="299.41" y2="299.41" stroke="#666" stroke-width="0.5"/>
<text x="257.90000000000003" y="301.01" class="tk" text-anchor="end">0.2</text>
<line x1="260.6" x2="263.1" y1="278.41" y2="278.41" stroke="#666" stroke-width="0.5"/>
<text x="257.90000000000003" y="280.01" class="tk" text-anchor="end">0.4</text>
<line x1="260.6" x2="263.1" y1="257.42" y2="257.42" stroke="#666" stroke-width="0.5"/>
<text x="257.90000000000003" y="259.02" class="tk" text-anchor="end">0.6</text>
<line x1="260.6" x2="263.1" y1="236.42" y2="236.42" stroke="#666" stroke-width="0.5"/>
<text x="257.90000000000003" y="238.02" class="tk" text-anchor="end">0.8</text>
<text x="304.70" y="339.6" class="ax" text-anchor="middle">Match to Chagyrskaya Neanderthal</text>
<text transform="translate(248.20000000000002,273.0) rotate(-90)" class="ax" text-anchor="middle">Match to Denisovan</text>
<g stroke="#e8e8f0" stroke-width="0.6" fill="none"><circle cx="343.5" cy="302.5" r="2.6"/><path d="M341.7,300.7L345.3,304.3M341.7,304.3L345.3,300.7"/></g>
<rect x="410.2" y="221.2" width="83.80" height="99.20" fill="#4169e1"/>
<clipPath id="cp410"><rect x="410.2" y="221.2" width="83.80" height="99.20"/></clipPath><g clip-path="url(#cp410)">
<path d="M494.2,320.9 479.2,321.0 453.8,320.7 452.4,317.7 451.1,314.2 450.3,311.2 449.7,307.7 449.5,305.2 449.4,302.7 449.5,300.2 449.8,297.2 450.8,292.2 453.0,284.7 453.6,282.2 453.9,279.2 454.0,274.2 454.1,271.7 454.5,269.2 455.1,267.2 455.7,265.7 456.5,264.2 458.2,262.2 460.2,260.6 464.0,258.7 465.5,257.7 466.2,257.0 466.9,256.2 467.5,254.7 467.5,253.7 467.4,253.2 465.5,249.2 465.0,247.7 464.6,245.7 464.5,243.7 464.6,242.2 464.8,240.7 465.3,239.2 466.2,237.5 467.2,236.7 468.2,236.4 469.2,236.6 469.7,237.0 470.7,238.1 471.6,239.7 472.4,242.2 473.2,245.8 473.7,246.6 474.2,246.7 474.7,246.5 475.7,245.4 476.7,243.4 477.3,241.7 479.0,235.7 480.0,233.2 480.7,232.1 481.2,231.6 481.7,231.2 482.7,230.9 483.7,231.0 484.2,231.3 485.2,232.0 486.7,233.8 488.2,236.2 489.5,238.7 491.0,242.2 492.4,246.2 494.2,251.8 494.5,301.2 494.4,320.7 494.2,320.9Z" fill="#4d62d3" stroke="#4d62d3" stroke-width="0.3"/>
<path d="M494.2,320.8 488.2,321.0 480.7,321.0 463.0,320.7 461.0,317.2 459.4,313.7 458.2,310.2 457.5,306.2 457.2,302.2 457.4,297.7 458.0,293.7 459.8,286.2 460.2,283.2 460.1,280.2 459.1,275.2 458.8,273.2 458.9,271.2 459.4,269.2 460.3,267.7 460.7,267.2 461.7,266.5 463.2,265.9 466.7,265.1 468.2,264.5 469.2,263.8 470.7,262.4 477.2,255.4 478.3,253.7 479.2,251.7 480.0,249.2 481.2,243.7 481.8,241.7 482.7,240.1 483.2,239.6 483.7,239.3 484.2,239.3 484.7,239.4 485.2,239.7 486.2,240.6 487.7,243.0 489.2,246.4 490.5,250.2 491.6,254.2 492.9,259.7 494.2,266.4 494.5,301.2 494.4,314.7 494.3,320.7 494.2,320.8ZM468.7,246.3 468.2,246.4 467.7,246.2 467.3,245.7 466.9,244.7 466.7,243.7 466.8,242.7 467.2,241.3 467.7,240.7 468.2,240.6 468.7,240.8 469.2,241.5 469.5,242.2 469.7,243.2 469.6,244.2 469.4,245.2 469.2,245.7 468.7,246.3Z" fill="#595cc5" stroke="#595cc5" stroke-width="0.3"/>
<path d="M493.7,320.7 482.2,320.9 467.9,320.7 465.9,317.2 464.2,313.2 462.9,309.2 462.2,305.2 462.0,302.7 462.0,299.7 462.1,297.2 462.5,294.2 463.4,289.7 465.9,278.2 466.7,275.7 467.4,274.2 468.4,272.7 473.2,266.9 475.7,264.3 479.3,261.2 480.7,259.6 481.5,258.2 482.0,256.7 483.7,249.7 484.2,248.5 484.7,247.9 485.2,247.7 485.7,247.8 486.2,248.2 486.7,248.8 487.7,250.7 488.7,253.5 489.9,258.2 492.3,270.7 494.2,278.1 494.4,296.2 494.4,311.2 494.2,319.9 493.7,320.7Z" fill="#6555b7" stroke="#6555b7" stroke-width="0.3"/>
<path d="M491.7,320.7 482.2,320.9 470.9,320.7 468.8,317.2 467.0,313.2 465.9,309.2 465.1,304.7 464.9,301.7 464.9,298.2 465.3,294.7 465.9,291.2 466.8,287.2 468.0,283.2 469.1,280.2 470.5,277.2 471.9,274.7 473.3,272.7 475.2,270.5 476.7,269.1 477.7,268.3 479.2,267.4 483.0,265.7 484.7,264.8 485.7,264.5 486.2,264.5 486.7,264.9 487.2,265.6 488.2,267.7 492.5,279.2 494.2,284.3 494.4,301.2 494.2,316.2 492.7,319.4 491.9,320.7 491.7,320.7Z" fill="#704fa9" stroke="#704fa9" stroke-width="0.3"/>
<path d="M490.2,320.7 482.2,320.8 473.3,320.7 471.5,318.2 469.9,315.2 468.5,311.7 467.5,307.7 467.1,304.7 466.9,302.2 466.8,299.7 467.0,296.7 467.4,293.7 468.0,290.7 468.8,287.7 469.8,284.7 470.8,282.2 472.0,279.7 473.2,277.7 474.7,275.6 476.2,274.0 477.7,272.8 479.2,272.0 480.7,271.5 482.7,271.3 483.7,271.5 484.7,271.8 486.2,272.7 487.7,274.3 489.7,277.6 491.4,281.2 493.0,285.2 494.2,289.2 494.3,301.2 494.2,312.5 493.5,314.7 492.4,317.2 491.3,319.2 490.2,320.7Z" fill="#7c489b" stroke="#7c489b" stroke-width="0.3"/>
<path d="M488.2,320.7 482.2,320.8 475.4,320.7 474.2,319.4 473.2,318.0 472.2,316.5 471.3,314.7 469.9,311.2 469.4,309.2 468.8,306.7 468.5,304.2 468.4,301.7 468.4,299.2 468.6,296.7 468.9,294.2 469.4,291.7 470.0,289.2 470.8,286.7 471.9,284.2 472.9,282.2 474.1,280.2 475.2,278.7 476.2,277.6 477.7,276.3 479.2,275.4 480.7,275.0 481.7,274.9 482.7,275.0 483.7,275.2 484.7,275.6 485.7,276.3 486.7,277.1 488.4,279.2 490.2,282.2 492.0,286.2 493.3,290.2 494.2,294.2 494.2,308.2 493.9,309.7 492.9,313.2 491.6,316.2 490.7,317.8 489.7,319.2 488.4,320.7 488.2,320.7Z" fill="#88428d" stroke="#88428d" stroke-width="0.3"/>
<path d="M486.2,320.7 477.8,320.7 476.0,319.2 475.0,318.2 473.9,316.7 473.0,315.2 472.0,313.2 471.2,311.2 470.7,309.2 470.1,306.7 469.8,304.7 469.6,300.2 470.0,295.7 470.9,291.2 471.5,289.2 472.4,286.7 474.2,283.2 475.2,281.7 476.5,280.2 477.7,279.1 478.7,278.5 479.7,278.0 481.2,277.7 482.2,277.7 483.2,277.8 484.2,278.2 485.2,278.7 486.2,279.5 487.2,280.5 488.7,282.4 490.5,285.7 492.0,289.2 492.9,292.7 493.6,296.7 493.9,300.7 493.8,304.2 493.4,307.7 492.5,311.2 491.4,314.2 489.7,317.2 488.1,319.2 487.2,320.0 486.2,320.7Z" fill="#943b7f" stroke="#943b7f" stroke-width="0.3"/>
<path d="M483.7,320.3 482.7,320.5 481.2,320.4 480.2,320.2 479.2,319.8 478.2,319.3 477.2,318.5 476.2,317.6 475.1,316.2 473.5,313.7 472.8,312.2 472.1,310.2 471.2,306.7 470.8,302.7 470.8,298.7 471.3,294.7 472.3,290.7 473.7,287.1 475.4,284.2 477.2,282.0 478.2,281.2 479.2,280.6 480.7,280.1 481.7,280.0 482.7,280.0 483.7,280.3 484.7,280.8 485.7,281.4 486.7,282.3 487.7,283.4 489.2,285.6 490.7,288.7 491.9,292.2 492.6,295.7 493.0,299.7 493.0,303.2 492.7,306.7 491.9,310.2 490.8,313.2 489.5,315.7 487.7,317.9 486.7,318.8 485.7,319.5 484.7,320.0 483.7,320.3Z" fill="#a03470" stroke="#a03470" stroke-width="0.3"/>
<path d="M484.2,318.7 483.2,319.0 482.2,319.0 481.2,319.0 480.2,318.7 479.2,318.3 478.2,317.7 477.2,316.8 476.2,315.7 474.5,313.2 473.2,310.2 472.3,306.7 471.8,303.2 471.8,299.2 472.2,295.7 473.0,292.2 474.3,288.7 475.7,286.2 476.7,284.8 477.7,283.8 478.7,283.0 479.7,282.4 480.7,282.1 481.7,282.0 482.7,282.0 483.7,282.3 485.2,283.1 486.2,283.9 487.2,284.9 488.7,287.0 490.0,289.7 491.1,292.7 491.8,295.7 492.2,299.2 492.3,302.7 492.0,305.7 491.4,308.7 490.4,311.7 489.2,314.2 487.7,316.2 486.2,317.6 485.2,318.3 484.2,318.7Z" fill="#ac2e62" stroke="#ac2e62" stroke-width="0.3"/>
<path d="M484.2,317.3 483.2,317.5 482.2,317.6 481.2,317.5 480.2,317.2 479.2,316.8 478.2,316.1 476.7,314.6 475.2,312.3 474.1,309.7 473.2,306.7 472.7,303.2 472.7,299.7 473.1,296.2 473.8,293.2 474.8,290.2 476.2,287.7 477.8,285.7 478.7,285.0 479.7,284.4 480.7,284.0 481.7,283.8 482.7,283.9 483.7,284.1 485.2,284.9 486.7,286.3 488.1,288.2 489.2,290.3 490.3,293.2 491.0,296.2 491.4,299.2 491.5,302.2 491.2,305.2 490.7,308.2 489.9,310.7 488.7,313.1 487.2,315.1 485.7,316.5 484.2,317.3Z" fill="#b82754" stroke="#b82754" stroke-width="0.3"/>
<path d="M482.2,316.2 481.2,316.1 480.2,315.8 478.7,314.9 477.2,313.4 476.1,311.7 474.9,309.2 474.2,306.7 473.7,304.2 473.6,301.2 473.7,298.2 474.2,295.2 475.2,292.2 476.2,290.0 477.7,287.8 479.2,286.5 480.7,285.7 482.2,285.5 483.7,285.9 485.2,286.7 486.7,288.2 488.2,290.5 489.2,292.7 490.1,295.7 490.5,298.7 490.7,301.7 490.5,304.7 490.0,307.2 489.3,309.7 488.2,312.0 486.7,314.0 485.3,315.2 483.7,316.0 482.2,316.2Z" fill="#c42146" stroke="#c42146" stroke-width="0.3"/>
<path d="M482.7,314.7 481.2,314.6 479.7,314.0 478.2,312.7 477.0,311.2 476.0,309.2 475.2,306.9 474.7,304.2 474.5,301.7 474.6,298.7 475.0,296.2 475.7,293.7 476.7,291.4 477.8,289.7 479.2,288.3 480.7,287.5 482.2,287.2 483.7,287.6 485.2,288.5 486.7,290.1 487.7,291.7 488.6,293.7 489.3,296.2 489.7,298.7 489.9,301.2 489.8,303.7 489.4,306.2 488.7,308.6 487.8,310.7 486.7,312.3 485.2,313.7 484.2,314.3 482.7,314.7Z" fill="#d01a38" stroke="#d01a38" stroke-width="0.3"/>
<path d="M482.2,313.2 480.7,312.9 479.7,312.3 478.5,311.2 477.4,309.7 476.5,307.7 475.9,305.7 475.6,303.7 475.4,301.2 475.6,298.7 475.9,296.7 476.5,294.7 477.3,292.7 478.3,291.2 479.7,289.8 480.8,289.2 482.2,288.9 483.7,289.3 484.7,289.9 486.0,291.2 487.0,292.7 487.9,294.7 488.5,296.7 488.8,298.7 489.0,301.2 488.9,303.7 488.5,305.7 488.0,307.7 487.1,309.7 486.0,311.2 484.7,312.4 483.7,312.9 482.2,313.2Z" fill="#db142a" stroke="#db142a" stroke-width="0.3"/>
<path d="M483.7,311.2 482.7,311.5 481.2,311.3 480.2,310.8 479.2,310.0 478.2,308.6 477.5,307.2 476.8,305.2 476.5,303.2 476.4,301.2 476.6,298.7 477.0,296.7 477.7,294.7 478.7,292.9 479.7,291.8 480.7,291.1 481.7,290.8 482.7,290.8 483.7,291.1 484.7,291.8 485.7,292.9 486.5,294.2 487.2,296.0 487.7,297.7 488.0,299.7 488.0,301.7 487.9,303.2 487.7,304.8 487.2,306.7 486.5,308.2 485.7,309.5 484.7,310.6 483.7,311.2Z" fill="#e70d1c" stroke="#e70d1c" stroke-width="0.3"/>
<path d="M483.2,309.4 482.2,309.5 481.2,309.3 480.2,308.7 479.7,308.2 478.7,306.7 478.2,305.6 477.7,303.7 477.5,302.2 477.5,300.2 477.7,298.7 478.2,296.8 478.7,295.6 479.2,294.7 480.2,293.6 481.2,292.9 482.2,292.7 483.2,292.9 483.7,293.2 484.3,293.7 485.2,294.7 485.8,295.7 486.3,297.2 486.7,298.7 486.9,300.2 486.9,301.7 486.8,303.2 486.2,305.7 485.7,306.8 484.8,308.2 484.2,308.8 483.2,309.4Z" fill="#f3070e" stroke="#f3070e" stroke-width="0.3"/>
<path d="M482.7,306.8 481.7,306.9 481.2,306.7 480.2,305.8 479.7,304.9 479.2,303.7 478.9,301.7 479.1,299.2 479.7,297.3 480.2,296.5 480.7,295.9 481.2,295.5 482.2,295.2 483.2,295.5 483.7,295.9 484.3,296.7 484.7,297.4 485.2,298.7 485.4,300.7 485.3,302.7 484.7,304.7 484.2,305.6 483.7,306.2 482.7,306.8Z" fill="#ff0000" stroke="#ff0000" stroke-width="0.3"/>
</g>
<rect x="410.2" y="221.2" width="83.80" height="99.20" fill="none" stroke="#333" stroke-width="0.6"/>
<rect x="504.8" y="314.56" width="10.900000000000034" height="5.84" fill="#4169e1"/>
<rect x="504.8" y="308.73" width="10.900000000000034" height="5.84" fill="#4d62d3"/>
<rect x="504.8" y="302.89" width="10.900000000000034" height="5.84" fill="#595cc5"/>
<rect x="504.8" y="297.06" width="10.900000000000034" height="5.84" fill="#6555b7"/>
<rect x="504.8" y="291.22" width="10.900000000000034" height="5.84" fill="#704fa9"/>
<rect x="504.8" y="285.39" width="10.900000000000034" height="5.84" fill="#7c489b"/>
<rect x="504.8" y="279.55" width="10.900000000000034" height="5.84" fill="#88428d"/>
<rect x="504.8" y="273.72" width="10.900000000000034" height="5.84" fill="#943b7f"/>
<rect x="504.8" y="267.88" width="10.900000000000034" height="5.84" fill="#a03470"/>
<rect x="504.8" y="262.05" width="10.900000000000034" height="5.84" fill="#ac2e62"/>
<rect x="504.8" y="256.21" width="10.900000000000034" height="5.84" fill="#b82754"/>
<rect x="504.8" y="250.38" width="10.900000000000034" height="5.84" fill="#c42146"/>
<rect x="504.8" y="244.54" width="10.900000000000034" height="5.84" fill="#d01a38"/>
<rect x="504.8" y="238.71" width="10.900000000000034" height="5.84" fill="#db142a"/>
<rect x="504.8" y="232.87" width="10.900000000000034" height="5.84" fill="#e70d1c"/>
<rect x="504.8" y="227.04" width="10.900000000000034" height="5.84" fill="#f3070e"/>
<rect x="504.8" y="221.20" width="10.900000000000034" height="5.84" fill="#ff0000"/>
<line x1="504.8" x2="515.7" y1="314.56" y2="314.56" stroke="#000" stroke-opacity="0.55" stroke-width="0.6"/>
<line x1="504.8" x2="515.7" y1="308.73" y2="308.73" stroke="#000" stroke-opacity="0.55" stroke-width="0.6"/>
<line x1="504.8" x2="515.7" y1="302.89" y2="302.89" stroke="#000" stroke-opacity="0.55" stroke-width="0.6"/>
<line x1="504.8" x2="515.7" y1="297.06" y2="297.06" stroke="#000" stroke-opacity="0.55" stroke-width="0.6"/>
<line x1="504.8" x2="515.7" y1="291.22" y2="291.22" stroke="#000" stroke-opacity="0.55" stroke-width="0.6"/>
<line x1="504.8" x2="515.7" y1="285.39" y2="285.39" stroke="#000" stroke-opacity="0.55" stroke-width="0.6"/>
<line x1="504.8" x2="515.7" y1="279.55" y2="279.55" stroke="#000" stroke-opacity="0.55" stroke-width="0.6"/>
<line x1="504.8" x2="515.7" y1="273.72" y2="273.72" stroke="#000" stroke-opacity="0.55" stroke-width="0.6"/>
<line x1="504.8" x2="515.7" y1="267.88" y2="267.88" stroke="#000" stroke-opacity="0.55" stroke-width="0.6"/>
<line x1="504.8" x2="515.7" y1="262.05" y2="262.05" stroke="#000" stroke-opacity="0.55" stroke-width="0.6"/>
<line x1="504.8" x2="515.7" y1="256.21" y2="256.21" stroke="#000" stroke-opacity="0.55" stroke-width="0.6"/>
<line x1="504.8" x2="515.7" y1="250.38" y2="250.38" stroke="#000" stroke-opacity="0.55" stroke-width="0.6"/>
<line x1="504.8" x2="515.7" y1="244.54" y2="244.54" stroke="#000" stroke-opacity="0.55" stroke-width="0.6"/>
<line x1="504.8" x2="515.7" y1="238.71" y2="238.71" stroke="#000" stroke-opacity="0.55" stroke-width="0.6"/>
<line x1="504.8" x2="515.7" y1="232.87" y2="232.87" stroke="#000" stroke-opacity="0.55" stroke-width="0.6"/>
<line x1="504.8" x2="515.7" y1="227.04" y2="227.04" stroke="#000" stroke-opacity="0.55" stroke-width="0.6"/>
<rect x="504.8" y="221.2" width="10.900000000000034" height="99.19999999999999" fill="none" stroke="#333" stroke-width="0.5"/>
<line x1="515.7" x2="518.2" y1="320.40" y2="320.40" stroke="#666" stroke-width="0.5"/>
<text x="520.7" y="322.60" class="tk">0</text>
<line x1="515.7" x2="518.2" y1="297.06" y2="297.06" stroke="#666" stroke-width="0.5"/>
<text x="520.7" y="299.26" class="tk">2</text>
<line x1="515.7" x2="518.2" y1="273.72" y2="273.72" stroke="#666" stroke-width="0.5"/>
<text x="520.7" y="275.92" class="tk">4</text>
<line x1="515.7" x2="518.2" y1="250.38" y2="250.38" stroke="#666" stroke-width="0.5"/>
<text x="520.7" y="252.58" class="tk">6</text>
<line x1="515.7" x2="518.2" y1="227.04" y2="227.04" stroke="#666" stroke-width="0.5"/>
<text x="520.7" y="229.24" class="tk">8</text>
<line x1="410.20" x2="410.20" y1="320.4" y2="322.9" stroke="#666" stroke-width="0.5"/>
<text x="410.20" y="330.5" class="tk" text-anchor="middle">0.0</text>
<line x1="426.96" x2="426.96" y1="320.4" y2="322.9" stroke="#666" stroke-width="0.5"/>
<text x="426.96" y="330.5" class="tk" text-anchor="middle">0.2</text>
<line x1="443.72" x2="443.72" y1="320.4" y2="322.9" stroke="#666" stroke-width="0.5"/>
<text x="443.72" y="330.5" class="tk" text-anchor="middle">0.4</text>
<line x1="460.48" x2="460.48" y1="320.4" y2="322.9" stroke="#666" stroke-width="0.5"/>
<text x="460.48" y="330.5" class="tk" text-anchor="middle">0.6</text>
<line x1="477.24" x2="477.24" y1="320.4" y2="322.9" stroke="#666" stroke-width="0.5"/>
<text x="477.24" y="330.5" class="tk" text-anchor="middle">0.8</text>
<line x1="494.00" x2="494.00" y1="320.4" y2="322.9" stroke="#666" stroke-width="0.5"/>
<text x="494.00" y="330.5" class="tk" text-anchor="middle">1.0</text>
<line x1="407.7" x2="410.2" y1="320.40" y2="320.40" stroke="#666" stroke-width="0.5"/>
<text x="405.0" y="322.00" class="tk" text-anchor="end">0.0</text>
<line x1="407.7" x2="410.2" y1="299.41" y2="299.41" stroke="#666" stroke-width="0.5"/>
<text x="405.0" y="301.01" class="tk" text-anchor="end">0.2</text>
<line x1="407.7" x2="410.2" y1="278.41" y2="278.41" stroke="#666" stroke-width="0.5"/>
<text x="405.0" y="280.01" class="tk" text-anchor="end">0.4</text>
<line x1="407.7" x2="410.2" y1="257.42" y2="257.42" stroke="#666" stroke-width="0.5"/>
<text x="405.0" y="259.02" class="tk" text-anchor="end">0.6</text>
<line x1="407.7" x2="410.2" y1="236.42" y2="236.42" stroke="#666" stroke-width="0.5"/>
<text x="405.0" y="238.02" class="tk" text-anchor="end">0.8</text>
<text x="449.40" y="339.6" class="ax" text-anchor="middle">Match to Vindija Neanderthal</text>
<text transform="translate(395.3,273.0) rotate(-90)" class="ax" text-anchor="middle">Match to Denisovan</text>
<g stroke="#e8e8f0" stroke-width="0.6" fill="none"><circle cx="491.8" cy="302.5" r="2.6"/><path d="M490.0,300.7L493.6,304.3M490.0,304.3L493.6,300.7"/></g>
<text x="305.6" y="214.4" class="lab" text-anchor="middle">(C)</text>
<g stroke-width="0.8" fill="none">
<line x1="449.9" x2="583.3" y1="13.4" y2="13.4" stroke="#2a2a2a"/>
<line x1="449.9" x2="449.9" y1="13.4" y2="99.4" stroke="#2a2a2a"/>
<line x1="583.3" x2="583.3" y1="13.4" y2="71.6" stroke="#2a2a2a"/>
<line x1="419.5" x2="480.5" y1="99.4" y2="99.4" stroke="#2a2a2a"/>
<line x1="419.5" x2="419.5" y1="99.4" y2="125.4" stroke="#2a2a2a"/>
<line x1="480.5" x2="480.5" y1="99.4" y2="122.3" stroke="#2a2a2a"/>
<line x1="411.3" x2="427.4" y1="125.4" y2="125.4" stroke="#2a2a2a"/>
<line x1="411.3" x2="411.3" y1="125.4" y2="147.6" stroke="#2a2a2a"/>
<line x1="427.4" x2="427.4" y1="125.4" y2="132.6" stroke="#2a2a2a"/>
<line x1="412.3" x2="442.7" y1="132.6" y2="132.6" stroke="#2a2a2a"/>
<line x1="412.3" x2="412.3" y1="132.6" y2="147.6" stroke="#2a2a2a"/>
<line x1="442.7" x2="442.7" y1="132.6" y2="136.5" stroke="#2a2a2a"/>
<line x1="426.5" x2="458.9" y1="136.5" y2="136.5" stroke="#2a2a2a"/>
<line x1="426.5" x2="426.5" y1="136.5" y2="139.4" stroke="#2a2a2a"/>
<line x1="417.1" x2="435.8" y1="139.4" y2="139.4" stroke="#2a2a2a"/>
<line x1="417.1" x2="417.1" y1="139.4" y2="143.3" stroke="#2a2a2a"/>
<line x1="415.8" x2="419" y1="143.3" y2="143.3" stroke="#2a2a2a"/>
<line x1="415.8" x2="415.8" y1="143.3" y2="147.6" stroke="#2a2a2a"/>
<line x1="419" x2="419" y1="143.3" y2="147.6" stroke="#2a2a2a"/>
<line x1="435.8" x2="435.8" y1="139.4" y2="141.9" stroke="#2a2a2a"/>
<line x1="422.6" x2="446.6" y1="141.9" y2="141.9" stroke="#2a2a2a"/>
<line x1="422.6" x2="422.6" y1="141.9" y2="147.6" stroke="#2a2a2a"/>
<line x1="446.6" x2="446.6" y1="141.9" y2="147.6" stroke="#2a2a2a"/>
<line x1="423.8" x2="423.8" y1="142.6" y2="147.6" stroke="#2a2a2a"/>
<line x1="458.9" x2="458.9" y1="136.5" y2="142.2" stroke="#2a2a2a"/>
<line x1="452.3" x2="465.6" y1="142.2" y2="142.2" stroke="#2a2a2a"/>
<line x1="452.3" x2="452.3" y1="142.2" y2="147.6" stroke="#2a2a2a"/>
<line x1="465.6" x2="465.6" y1="142.2" y2="144.4" stroke="#2a2a2a"/>
<line x1="454.5" x2="471.6" y1="144.4" y2="144.4" stroke="#2a2a2a"/>
<line x1="454.5" x2="454.5" y1="144.4" y2="147.6" stroke="#2a2a2a"/>
<line x1="471.6" x2="471.6" y1="144.4" y2="147.6" stroke="#2a2a2a"/>
<line x1="458" x2="468" y1="145.5" y2="145.5" stroke="#2a2a2a"/>
<line x1="474.5" x2="486.5" y1="122.3" y2="122.3" stroke="#2a2a2a"/>
<line x1="474.5" x2="474.5" y1="122.3" y2="139.3" stroke="#2a2a2a"/>
<line x1="473.7" x2="476.3" y1="139.3" y2="139.3" stroke="#2a2a2a"/>
<line x1="473.7" x2="473.7" y1="139.3" y2="147.6" stroke="#2a2a2a"/>
<line x1="476.3" x2="476.3" y1="139.3" y2="147.6" stroke="#2a2a2a"/>
<line x1="486.5" x2="486.5" y1="122.3" y2="132.4" stroke="#2a2a2a"/>
<line x1="480" x2="492.7" y1="132.4" y2="132.4" stroke="#2a2a2a"/>
<line x1="480" x2="480" y1="132.4" y2="147.6" stroke="#2a2a2a"/>
<line x1="492.7" x2="492.7" y1="132.4" y2="136.4" stroke="#2a2a2a"/>
<line x1="481" x2="503.6" y1="136.4" y2="136.4" stroke="#2a2a2a"/>
<line x1="481" x2="481" y1="136.4" y2="147.6" stroke="#2a2a2a"/>
<line x1="503.6" x2="503.6" y1="136.4" y2="140.8" stroke="#2a2a2a"/>
<line x1="494.7" x2="512.4" y1="140.8" y2="140.8" stroke="#2a2a2a"/>
<line x1="494.7" x2="494.7" y1="140.8" y2="142.6" stroke="#2a2a2a"/>
<line x1="488.6" x2="500.3" y1="142.6" y2="142.6" stroke="#2a2a2a"/>
<line x1="488.6" x2="488.6" y1="142.6" y2="147.6" stroke="#2a2a2a"/>
<line x1="500.3" x2="500.3" y1="142.6" y2="147.6" stroke="#2a2a2a"/>
<line x1="486" x2="492" y1="144.5" y2="144.5" stroke="#2a2a2a"/>
<line x1="496" x2="504" y1="144.8" y2="144.8" stroke="#2a2a2a"/>
<line x1="512.4" x2="512.4" y1="140.8" y2="143.3" stroke="#2a2a2a"/>
<line x1="509.1" x2="515.7" y1="143.3" y2="143.3" stroke="#2a2a2a"/>
<line x1="509.1" x2="509.1" y1="143.3" y2="147.6" stroke="#2a2a2a"/>
<line x1="515.7" x2="515.7" y1="143.3" y2="147.6" stroke="#2a2a2a"/>
<line x1="517" x2="523" y1="145.8" y2="145.8" stroke="#2a2a2a"/>
<line x1="559.4" x2="583.3" y1="71.6" y2="71.6" stroke="#2a2a2a"/>
<line x1="559.4" x2="559.4" y1="71.6" y2="98.5" stroke="#2a2a2a"/>
<line x1="530.5" x2="588.5" y1="98.5" y2="98.5" stroke="#2a2a2a"/>
<line x1="530.5" x2="530.5" y1="98.5" y2="129.5" stroke="#2a2a2a"/>
<line x1="525.4" x2="534.6" y1="129.5" y2="129.5" stroke="#2a2a2a"/>
<line x1="525.4" x2="525.4" y1="129.5" y2="147.6" stroke="#2a2a2a"/>
<line x1="534.6" x2="534.6" y1="129.5" y2="134.9" stroke="#2a2a2a"/>
<line x1="527.5" x2="541.5" y1="134.9" y2="134.9" stroke="#2a2a2a"/>
<line x1="527.5" x2="527.5" y1="134.9" y2="147.6" stroke="#2a2a2a"/>
<line x1="541.5" x2="541.5" y1="134.9" y2="140.8" stroke="#2a2a2a"/>
<line x1="530.2" x2="553.8" y1="140.8" y2="140.8" stroke="#2a2a2a"/>
<line x1="530.2" x2="530.2" y1="140.8" y2="144.4" stroke="#2a2a2a"/>
<line x1="528.8" x2="533" y1="144.4" y2="144.4" stroke="#2a2a2a"/>
<line x1="533" x2="533" y1="144.4" y2="147.6" stroke="#2a2a2a"/>
<line x1="553.8" x2="553.8" y1="140.8" y2="142.2" stroke="#2a2a2a"/>
<line x1="539" x2="566.5" y1="142.2" y2="142.2" stroke="#2a2a2a"/>
<line x1="539" x2="539" y1="142.2" y2="147.6" stroke="#2a2a2a"/>
<line x1="566.5" x2="566.5" y1="142.2" y2="144.6" stroke="#2a2a2a"/>
<line x1="560.3" x2="572.3" y1="144.6" y2="144.6" stroke="#2a2a2a"/>
<line x1="560.3" x2="560.3" y1="144.6" y2="147.6" stroke="#2a2a2a"/>
<line x1="572.3" x2="572.3" y1="144.6" y2="147.6" stroke="#2a2a2a"/>
<line x1="572" x2="581.6" y1="145.5" y2="145.5" stroke="#2a2a2a"/>
<line x1="560.3" x2="572.3" y1="146.5" y2="146.5" stroke="#2a2a2a"/>
<line x1="546" x2="559" y1="147.2" y2="147.2" stroke="#2a2a2a"/>
<line x1="561" x2="571" y1="144.2" y2="144.2" stroke="#2a2a2a"/>
<line x1="543" x2="552" y1="145.3" y2="145.3" stroke="#2a2a2a"/>
<line x1="517" x2="523" y1="145.8" y2="145.8" stroke="#2a2a2a"/>
<line x1="588.5" x2="588.5" y1="98.5" y2="122.8" stroke="#2a2a2a"/>
<line x1="586.2" x2="591.5" y1="122.8" y2="122.8" stroke="#2a2a2a"/>
<line x1="586.2" x2="586.2" y1="122.8" y2="147.6" stroke="#2a2a2a"/>
<line x1="591.5" x2="591.5" y1="122.8" y2="133.5" stroke="#2a2a2a"/>
<line x1="588.8" x2="593.5" y1="133.5" y2="133.5" stroke="#2a2a2a"/>
<line x1="588.8" x2="588.8" y1="133.5" y2="147.6" stroke="#2a2a2a"/>
<line x1="593.5" x2="593.5" y1="133.5" y2="137.4" stroke="#2a2a2a"/>
<line x1="591.1" x2="595.4" y1="137.4" y2="137.4" stroke="#2a2a2a"/>
<line x1="591.1" x2="591.1" y1="137.4" y2="147.6" stroke="#2a2a2a"/>
<line x1="595.4" x2="595.4" y1="137.4" y2="147.6" stroke="#2a2a2a"/>
<line x1="583.3" x2="606.9" y1="71.6" y2="71.6" stroke="#ef4f4f"/>
<line x1="606.9" x2="606.9" y1="71.6" y2="125.2" stroke="#ef4f4f"/>
<line x1="603.1" x2="610.9" y1="125.2" y2="125.2" stroke="#ef4f4f"/>
<line x1="603.1" x2="603.1" y1="125.2" y2="147.6" stroke="#ef4f4f"/>
<line x1="610.9" x2="610.9" y1="125.2" y2="137.7" stroke="#ef4f4f"/>
<line x1="607.3" x2="613.9" y1="137.7" y2="137.7" stroke="#ef4f4f"/>
<line x1="607.3" x2="607.3" y1="137.7" y2="147.6" stroke="#ef4f4f"/>
<line x1="613.9" x2="613.9" y1="137.7" y2="141.6" stroke="#ef4f4f"/>
<line x1="611.4" x2="617" y1="141.6" y2="141.6" stroke="#ef4f4f"/>
<line x1="611.4" x2="611.4" y1="141.6" y2="147.6" stroke="#ef4f4f"/>
<line x1="617" x2="617" y1="141.6" y2="143.5" stroke="#ef4f4f"/>
<line x1="613.5" x2="622" y1="143.5" y2="143.5" stroke="#ef4f4f"/>
<line x1="613.5" x2="613.5" y1="143.5" y2="147.6" stroke="#ef4f4f"/>
<line x1="622" x2="622" y1="143.5" y2="145" stroke="#ef4f4f"/>
<line x1="618" x2="628.5" y1="145" y2="145" stroke="#ef4f4f"/>
<line x1="618" x2="618" y1="145" y2="147.6" stroke="#ef4f4f"/>
<line x1="628.5" x2="628.5" y1="145" y2="147.6" stroke="#ef4f4f"/>
<line x1="622" x2="626" y1="146" y2="146" stroke="#ef4f4f"/>
<line x1="615" x2="624" y1="144.2" y2="144.2" stroke="#ef4f4f"/>
<line x1="611" x2="620" y1="145.6" y2="145.6" stroke="#ef4f4f"/>
<line x1="620" x2="620" y1="144.2" y2="147.6" stroke="#ef4f4f"/>
<line x1="624" x2="624" y1="144.2" y2="147.6" stroke="#ef4f4f"/>
<line x1="626" x2="626" y1="145" y2="147.6" stroke="#ef4f4f"/>
<line x1="616" x2="630" y1="146.3" y2="146.3" stroke="#ef4f4f"/>
<path d="M424.5,142.2 L427,142.4 L431.5,144.3 L436,147.2 M426,142.6 L428.5,145.2 L430,147.2" stroke="#2a2a2a"/>
</g>
<circle cx="429" cy="144.6" r="1.1" fill="#5c5cec"/>
<circle cx="430.5" cy="145.2" r="1.1" fill="#5c5cec"/>
<circle cx="428" cy="145.6" r="1.1" fill="#5c5cec"/>
<circle cx="606.9" cy="98.4" r="1.1" fill="#5c5cec"/>
<circle cx="530.5" cy="114" r="1.1" fill="#5c5cec"/>
<circle cx="541.5" cy="138" r="1.1" fill="#5c5cec"/>
<circle cx="503.6" cy="138.6" r="1.1" fill="#5c5cec"/>
<circle cx="566.5" cy="142" r="1.1" fill="#5c5cec"/>
<circle cx="476.3" cy="140.5" r="1.1" fill="#5c5cec"/>
<circle cx="476.3" cy="143" r="1.1" fill="#5c5cec"/>
<circle cx="476.3" cy="145" r="1.1" fill="#5c5cec"/>
<circle cx="591.1" cy="142" r="1.1" fill="#5c5cec"/>
<circle cx="595.4" cy="141" r="1.1" fill="#5c5cec"/>
<circle cx="410.9" cy="147.8" r="1.25" fill="#5c5cec"/>
<circle cx="412.3" cy="147.8" r="1.25" fill="#5c5cec"/>
<circle cx="414.0" cy="147.8" r="1.25" fill="#5c5cec"/>
<circle cx="417.5" cy="147.8" r="1.25" fill="#5c5cec"/>
<circle cx="418.9" cy="147.8" r="1.25" fill="#5c5cec"/>
<circle cx="421.0" cy="147.8" r="1.25" fill="#5c5cec"/>
<circle cx="423.7" cy="147.8" r="1.25" fill="#5c5cec"/>
<circle cx="425.9" cy="147.8" r="1.25" fill="#5c5cec"/>
<circle cx="428.0" cy="147.8" r="1.25" fill="#5c5cec"/>
<circle cx="430.1" cy="147.8" r="1.25" fill="#5c5cec"/>
<circle cx="431.5" cy="147.8" r="1.25" fill="#5c5cec"/>
<circle cx="433.3" cy="147.8" r="1.25" fill="#5c5cec"/>
<circle cx="435.9" cy="147.8" r="1.25" fill="#5c5cec"/>
<circle cx="437.7" cy="147.8" r="1.25" fill="#5c5cec"/>
<circle cx="443.8" cy="147.8" r="1.25" fill="#5c5cec"/>
<circle cx="445.9" cy="147.8" r="1.25" fill="#5c5cec"/>
<circle cx="448.7" cy="147.8" r="1.25" fill="#5c5cec"/>
<circle cx="450.8" cy="147.8" r="1.25" fill="#5c5cec"/>
<circle cx="453.4" cy="147.8" r="1.25" fill="#5c5cec"/>
<circle cx="456.1" cy="147.8" r="1.25" fill="#5c5cec"/>
<circle cx="458.7" cy="147.8" r="1.25" fill="#5c5cec"/>
<circle cx="461.3" cy="147.8" r="1.25" fill="#5c5cec"/>
<circle cx="463.6" cy="147.8" r="1.25" fill="#5c5cec"/>
<circle cx="466.6" cy="147.8" r="1.25" fill="#5c5cec"/>
<circle cx="469.2" cy="147.8" r="1.25" fill="#5c5cec"/>
<circle cx="471.5" cy="147.8" r="1.25" fill="#5c5cec"/>
<circle cx="474.5" cy="147.8" r="1.25" fill="#5c5cec"/>
<circle cx="476.2" cy="147.8" r="1.25" fill="#5c5cec"/>
<circle cx="482.3" cy="147.8" r="1.25" fill="#5c5cec"/>
<circle cx="483.7" cy="147.8" r="1.25" fill="#5c5cec"/>
<circle cx="485.3" cy="147.8" r="1.25" fill="#5c5cec"/>
<circle cx="487.6" cy="147.8" r="1.25" fill="#5c5cec"/>
<circle cx="489.0" cy="147.8" r="1.25" fill="#5c5cec"/>
<circle cx="491.1" cy="147.8" r="1.25" fill="#5c5cec"/>
<circle cx="492.9" cy="147.8" r="1.25" fill="#5c5cec"/>
<circle cx="494.6" cy="147.8" r="1.25" fill="#5c5cec"/>
<circle cx="497.2" cy="147.8" r="1.25" fill="#5c5cec"/>
<circle cx="499.0" cy="147.8" r="1.25" fill="#5c5cec"/>
<circle cx="501.6" cy="147.8" r="1.25" fill="#5c5cec"/>
<circle cx="504.2" cy="147.8" r="1.25" fill="#5c5cec"/>
<circle cx="506.0" cy="147.8" r="1.25" fill="#5c5cec"/>
<circle cx="509.5" cy="147.8" r="1.25" fill="#5c5cec"/>
<circle cx="512.1" cy="147.8" r="1.25" fill="#5c5cec"/>
<circle cx="514.8" cy="147.8" r="1.25" fill="#5c5cec"/>
<circle cx="517.4" cy="147.8" r="1.25" fill="#5c5cec"/>
<circle cx="519.1" cy="147.8" r="1.25" fill="#5c5cec"/>
<circle cx="520.3" cy="147.8" r="1.25" fill="#5c5cec"/>
<circle cx="522.9" cy="147.8" r="1.25" fill="#5c5cec"/>
<circle cx="525.5" cy="147.8" r="1.25" fill="#5c5cec"/>
<circle cx="529.0" cy="147.8" r="1.25" fill="#5c5cec"/>
<circle cx="530.4" cy="147.8" r="1.25" fill="#5c5cec"/>
<circle cx="533.4" cy="147.8" r="1.25" fill="#5c5cec"/>
<circle cx="535.1" cy="147.8" r="1.25" fill="#5c5cec"/>
<circle cx="539.5" cy="147.8" r="1.25" fill="#5c5cec"/>
<circle cx="542.2" cy="147.8" r="1.25" fill="#5c5cec"/>
<circle cx="543.9" cy="147.8" r="1.25" fill="#5c5cec"/>
<circle cx="546.5" cy="147.8" r="1.25" fill="#5c5cec"/>
<circle cx="552.7" cy="147.8" r="1.25" fill="#5c5cec"/>
<circle cx="554.4" cy="147.8" r="1.25" fill="#5c5cec"/>
<circle cx="561.4" cy="147.8" r="1.25" fill="#5c5cec"/>
<circle cx="564.1" cy="147.8" r="1.25" fill="#5c5cec"/>
<circle cx="567.6" cy="147.8" r="1.25" fill="#5c5cec"/>
<circle cx="570.7" cy="147.8" r="1.25" fill="#5c5cec"/>
<circle cx="572.8" cy="147.8" r="1.25" fill="#5c5cec"/>
<circle cx="575.4" cy="147.8" r="1.25" fill="#5c5cec"/>
<circle cx="578.1" cy="147.8" r="1.25" fill="#5c5cec"/>
<circle cx="580.7" cy="147.8" r="1.25" fill="#5c5cec"/>
<circle cx="584.2" cy="147.8" r="1.25" fill="#5c5cec"/>
<circle cx="586.0" cy="147.8" r="1.25" fill="#5c5cec"/>
<circle cx="588.6" cy="147.8" r="1.25" fill="#5c5cec"/>
<circle cx="592.1" cy="147.8" r="1.25" fill="#5c5cec"/>
<circle cx="594.7" cy="147.8" r="1.25" fill="#5c5cec"/>
<circle cx="597.3" cy="147.8" r="1.25" fill="#5c5cec"/>
<circle cx="600.8" cy="147.8" r="1.25" fill="#5c5cec"/>
<circle cx="603.5" cy="147.8" r="1.25" fill="#5c5cec"/>
<circle cx="605.2" cy="147.8" r="1.25" fill="#5c5cec"/>
<circle cx="607.9" cy="147.8" r="1.25" fill="#5c5cec"/>
<circle cx="610.5" cy="147.8" r="1.25" fill="#5c5cec"/>
<circle cx="613.1" cy="147.8" r="1.25" fill="#5c5cec"/>
<circle cx="616.6" cy="147.8" r="1.25" fill="#5c5cec"/>
<circle cx="619.2" cy="147.8" r="1.25" fill="#5c5cec"/>
<circle cx="621.9" cy="147.8" r="1.25" fill="#5c5cec"/>
<text x="400.3" y="24.299999999999997" class="dn" text-anchor="end">1500000</text>
<text x="400.3" y="66.3" class="dn" text-anchor="end">1000000</text>
<text x="400.3" y="107.80000000000001" class="dn" text-anchor="end">500000</text>
<text x="400.3" y="149.3" class="dn" text-anchor="end">0</text>
<text transform="translate(362.3,65) rotate(-90)" class="dn" text-anchor="middle">Years Before Present</text>
<text x="400" y="169.39999999999998" class="dn" text-anchor="end">YRI</text>
<text x="400" y="179.6" class="dn" text-anchor="end">Papuan</text>
<text x="400" y="191.1" class="dn" text-anchor="end">Melanesian</text>
<g fill="#a9c4f5">
<rect x="411" y="165.6" width="10.8" height="2.1"/>
<rect x="423.7" y="165.6" width="124.1" height="2.1"/>
<rect x="548.8" y="165.6" width="5.2" height="2.1"/>
<rect x="554.8" y="165.6" width="2.2" height="2.1"/>
<rect x="559.8" y="165.6" width="15.4" height="2.1"/>
<rect x="576.2" y="165.6" width="26.4" height="2.1"/>
</g>
<g fill="#70cc88">
<rect x="422.6" y="176.1" width="0.7" height="2.6"/>
<rect x="558.2" y="176.1" width="0.7" height="2.6"/>
<rect x="602.6" y="176.1" width="0.7" height="2.6"/>
<rect x="603.8" y="176.1" width="0.7" height="2.6"/>
<rect x="605.4" y="176.1" width="0.7" height="2.6"/>
<rect x="606.6" y="176.1" width="0.7" height="2.6"/>
<rect x="607.6" y="176.1" width="0.7" height="2.6"/>
<rect x="608.9" y="176.1" width="0.7" height="2.6"/>
<rect x="610" y="176.1" width="0.7" height="2.6"/>
<rect x="611.2" y="176.1" width="0.7" height="2.6"/>
<rect x="612.4" y="176.1" width="0.7" height="2.6"/>
<rect x="613.6" y="176.1" width="0.7" height="2.6"/>
<rect x="614.8" y="176.1" width="0.7" height="2.6"/>
<rect x="616" y="176.1" width="0.7" height="2.6"/>
<rect x="617.2" y="176.1" width="0.7" height="2.6"/>
<rect x="618.4" y="176.1" width="0.7" height="2.6"/>
<rect x="619.6" y="176.1" width="0.7" height="2.6"/>
<rect x="620.8" y="176.1" width="0.7" height="2.6"/>
<rect x="622" y="176.1" width="0.7" height="2.6"/>
<rect x="623.2" y="176.1" width="0.7" height="2.6"/>
<rect x="624.4" y="176.1" width="0.7" height="2.6"/>
<rect x="625.6" y="176.1" width="0.7" height="2.6"/>
<rect x="626.8" y="176.1" width="0.7" height="2.6"/>
<rect x="627.8" y="176.1" width="0.7" height="2.6"/>
</g><g fill="#f5a0a0">
<rect x="422.6" y="187.1" width="0.7" height="2.6"/>
<rect x="548.3" y="187.1" width="0.7" height="2.6"/>
<rect x="554.1" y="187.1" width="0.7" height="2.6"/>
<rect x="557.3" y="187.1" width="0.7" height="2.6"/>
<rect x="559.4" y="187.1" width="0.7" height="2.6"/>
<rect x="575.5" y="187.1" width="0.7" height="2.6"/>
<rect x="603.8" y="187.1" width="0.7" height="2.6"/>
<rect x="604.8" y="187.1" width="0.7" height="2.6"/>
<rect x="606.4" y="187.1" width="0.7" height="2.6"/>
<rect x="607.4" y="187.1" width="0.7" height="2.6"/>
<rect x="608.4" y="187.1" width="0.7" height="2.6"/>
<rect x="610" y="187.1" width="0.7" height="2.6"/>
<rect x="611.4" y="187.1" width="0.7" height="2.6"/>
<rect x="613.6" y="187.1" width="0.7" height="2.6"/>
<rect x="615" y="187.1" width="0.7" height="2.6"/>
<rect x="617.2" y="187.1" width="0.7" height="2.6"/>
<rect x="618.8" y="187.1" width="0.7" height="2.6"/>
<rect x="619.8" y="187.1" width="0.7" height="2.6"/>
<rect x="621.2" y="187.1" width="0.7" height="2.6"/>
<rect x="623" y="187.1" width="0.7" height="2.6"/>
<rect x="625.2" y="187.1" width="0.7" height="2.6"/>
<rect x="628.6" y="187.1" width="0.7" height="2.6"/>
</g>
<text x="654.9" y="62" class="lab" text-anchor="middle">(B)</text>
<text x="636" y="76.10000000000001" class="dn">Ancestral</text>
<text x="636" y="85.8" class="dn">Derived</text>
<text x="636" y="96.10000000000001" class="dn">Mutation</text>
<line x1="676" x2="686" y1="73.4" y2="73.4" stroke="#2a2a2a" stroke-width="0.9"/>
<line x1="676" x2="686" y1="83.3" y2="83.3" stroke="#f04040" stroke-width="1"/>
<circle cx="681" cy="93.5" r="1.8" fill="#5c5cec"/>
<g stroke="#707070" stroke-width="0.4" fill="none">
<line x1="61" y1="1.6" x2="72.2" y2="13.9"/>
<line x1="72.2" y1="13.9" x2="64" y2="28.1"/>
<line x1="52.5" y1="29.3" x2="64" y2="28.1"/>
<line x1="40.9" y1="22.6" x2="52.5" y2="29.3"/>
<line x1="64" y1="28.1" x2="78.4" y2="58"/>
<line x1="64.6" y1="45.8" x2="78.4" y2="58"/>
<line x1="86.6" y1="47.8" x2="86.5" y2="56"/>
<line x1="89.7" y1="27.9" x2="95.2" y2="35.7"/>
<line x1="98.5" y1="26.4" x2="95.2" y2="35.7"/>
<line x1="95.2" y1="35.7" x2="86.5" y2="56"/>
<line x1="111.6" y1="30.3" x2="86.5" y2="56"/>
<line x1="114.2" y1="34.9" x2="86.5" y2="56"/>
<line x1="123.4" y1="26.8" x2="114.2" y2="34.9"/>
<line x1="122.9" y1="37.7" x2="114.2" y2="34.9"/>
<line x1="123.4" y1="26.8" x2="86.5" y2="56"/>
<line x1="126.8" y1="16.5" x2="123.4" y2="26.8"/>
<line x1="101.7" y1="50" x2="86.5" y2="56"/>
<line x1="104.6" y1="55.8" x2="86.5" y2="56"/>
<line x1="111" y1="56.6" x2="104.6" y2="55.8"/>
<line x1="46.8" y1="61.7" x2="78.4" y2="58"/>
<line x1="49.3" y1="68" x2="78.4" y2="58"/>
<line x1="65.5" y1="70.8" x2="84" y2="66"/>
<line x1="51.7" y1="75.2" x2="65.5" y2="70.8"/>
<line x1="58.7" y1="80.2" x2="65.5" y2="70.8"/>
<line x1="70.2" y1="85.5" x2="87" y2="76"/>
<line x1="84.6" y1="88.1" x2="87" y2="76"/>
<line x1="92.9" y1="65.5" x2="84" y2="66"/>
<line x1="98.5" y1="72.5" x2="87" y2="76"/>
<line x1="102" y1="80.8" x2="87" y2="76"/>
<line x1="111" y1="82" x2="102" y2="80.8"/>
<line x1="78.4" y1="58" x2="84" y2="66"/>
<line x1="78.4" y1="58" x2="86.5" y2="56"/>
<line x1="84" y1="66" x2="86.5" y2="56"/>
<line x1="84" y1="66" x2="87" y2="76"/>
<line x1="87" y1="76" x2="91" y2="96.8"/>
<line x1="91" y1="96.8" x2="80.9" y2="107.2"/>
<line x1="91" y1="96.8" x2="65.5" y2="114.1"/>
<line x1="65.5" y1="114.1" x2="50.1" y2="127.6"/>
<line x1="91" y1="96.8" x2="109" y2="118.5"/>
<line x1="50.1" y1="127.6" x2="41.6" y2="116.8"/>
<line x1="50.1" y1="127.6" x2="45.4" y2="138.2"/>
<line x1="50.1" y1="127.6" x2="60.1" y2="137.6"/>
<line x1="50.1" y1="127.6" x2="33.1" y2="138.4"/>
<line x1="33.1" y1="138.4" x2="16.4" y2="141"/>
<line x1="16.4" y1="141" x2="8.2" y2="144"/>
<line x1="109" y1="118.5" x2="98.8" y2="121.7"/>
<line x1="98.8" y1="121.7" x2="91.2" y2="137.3"/>
<line x1="109" y1="118.5" x2="112" y2="149.5"/>
<line x1="109" y1="118.5" x2="155.2" y2="136.7"/>
<line x1="112" y1="149.5" x2="95.8" y2="155.7"/>
<line x1="112" y1="149.5" x2="128.4" y2="139.3"/>
<line x1="128.4" y1="139.3" x2="155.2" y2="136.7"/>
<line x1="112" y1="149.5" x2="118.8" y2="172.5"/>
<line x1="118.8" y1="172.5" x2="113.2" y2="189"/>
<line x1="155.2" y1="136.7" x2="149.8" y2="108.4"/>
<line x1="155.2" y1="136.7" x2="162.7" y2="108"/>
<line x1="155.2" y1="136.7" x2="181.5" y2="122.6"/>
<line x1="155.2" y1="136.7" x2="173.9" y2="157.5"/>
<line x1="155.2" y1="136.7" x2="144.3" y2="160.8"/>
<line x1="49.3" y1="68" x2="84" y2="66"/>
<line x1="65.5" y1="70.8" x2="78.4" y2="58"/>
<line x1="82.5" y1="61.1" x2="81.0" y2="64.1"/>
<line x1="85.5" y1="68.4" x2="90.9" y2="69.4"/>
<line x1="78.5" y1="70.7" x2="81.9" y2="71.5"/>
<line x1="83.9" y1="84.1" x2="87.8" y2="85.7"/>
<line x1="86.8" y1="88.2" x2="85.6" y2="93.1"/>
<line x1="91.7" y1="57.6" x2="87.7" y2="59.5"/>
<line x1="80.0" y1="60.0" x2="84.0" y2="65.8"/>
<line x1="80.5" y1="75.8" x2="78.5" y2="80.2"/>
<line x1="85.7" y1="58.1" x2="89.6" y2="58.9"/>
<line x1="87.5" y1="70.5" x2="90.8" y2="75.5"/>
<line x1="84.3" y1="66.2" x2="79.2" y2="70.1"/>
<line x1="81.4" y1="75.5" x2="80.8" y2="82.9"/>
<line x1="88.2" y1="65.8" x2="84.6" y2="66.0"/>
<line x1="83.9" y1="81.7" x2="88.7" y2="84.2"/>
</g>
<g class="mu">
<text x="67.6" y="8.6">(1)</text>
<text x="69.1" y="21.8">(1)</text>
<text x="59.2" y="29.5">(1)</text>
<text x="47.7" y="26.8">(1)</text>
<text x="72.2" y="43.8">(1)</text>
<text x="72.5" y="52.7">(1)</text>
<text x="87.5" y="52.7">(1)</text>
<text x="93.5" y="32.6">(1)</text>
<text x="97.8" y="31.9">(1)</text>
<text x="91.8" y="46.6">(1)</text>
<text x="100.0" y="43.9">(1)</text>
<text x="101.3" y="46.2">(1)</text>
<text x="119.8" y="31.7">(1)</text>
<text x="119.6" y="37.1">(1)</text>
<text x="106.0" y="42.2">(1)</text>
<text x="126.1" y="22.4">(1)</text>
<text x="95.1" y="53.8">(1)</text>
<text x="96.5" y="56.7">(1)</text>
<text x="108.8" y="57.0">(1)</text>
<text x="63.6" y="60.6">(1)</text>
<text x="64.8" y="63.8">(1)</text>
<text x="75.8" y="69.2">(1)</text>
<text x="59.6" y="73.8">(1)</text>
<text x="63.1" y="76.3">(1)</text>
<text x="79.6" y="81.5">(1)</text>
<text x="86.8" y="82.8">(1)</text>
<text x="89.5" y="66.5">(1)</text>
<text x="93.8" y="75.0">(1)</text>
<text x="95.5" y="79.2">(1)</text>
<text x="107.5" y="82.2">(1)</text>
<text x="82.2" y="62.8">(1)</text>
<text x="83.5" y="57.8">(1)</text>
<text x="86.2" y="61.8">(1)</text>
<text x="86.5" y="71.8">(1)</text>
<text x="90.0" y="87.2">(1)</text>
<text x="87.0" y="102.8">(1)</text>
<text x="79.2" y="106.2">(1)</text>
<text x="58.8" y="121.6">(1)</text>
<text x="101.0" y="108.5">(1)</text>
<text x="46.9" y="123.0">(1)</text>
<text x="48.8" y="133.7">(1)</text>
<text x="56.1" y="133.4">(1)</text>
<text x="42.6" y="133.8">(1)</text>
<text x="25.8" y="140.5">(1)</text>
<text x="13.3" y="143.3">(1)</text>
<text x="104.9" y="120.9">(1)</text>
<text x="96.0" y="130.3">(1)</text>
<text x="111.5" y="134.8">(1)</text>
<text x="133.1" y="128.4">(1)</text>
<text x="104.9" y="153.4">(1)</text>
<text x="121.2" y="145.2">(1)</text>
<text x="142.8" y="138.8">(1)</text>
<text x="116.4" y="161.8">(1)</text>
<text x="117.0" y="181.6">(1)</text>
<text x="153.5" y="123.3">(1)</text>
<text x="159.9" y="123.1">(1)</text>
<text x="169.3" y="130.4">(1)</text>
<text x="165.6" y="147.9">(1)</text>
<text x="150.8" y="149.6">(1)</text>
<text x="67.7" y="67.8">(1)</text>
<text x="73.0" y="65.2">(1)</text>
<text x="69.8" y="56.9">(1)</text>
<text x="73.8" y="60.4">(1)</text>
<text x="83.8" y="62.3">(1)</text>
<text x="85.5" y="66.7">(1)</text>
<text x="72.3" y="64.5">(1)</text>
<text x="77.8" y="64.5">(1)</text>
<text x="81.5" y="68.9">(1)</text>
<text x="71.8" y="68.5">(1)</text>
<text x="75.6" y="70.7">(1)</text>
<text x="82.8" y="73.9">(1)</text>
<text x="78.8" y="77.9">(1)</text>
<text x="84.8" y="80.9">(1)</text>
<text x="80.8" y="84.9">(1)</text>
<text x="86.8" y="70.9">(1)</text>
<text x="88.8" y="86.9">(1)</text>
<text x="76.8" y="52.9">(1)</text>
<text x="81.8" y="54.9">(1)</text>
<text x="90.8" y="57.9">(1)</text>
<text x="93.8" y="62.9">(1)</text>
<text x="90.8" y="75.9">(1)</text>
</g>
<circle cx="61" cy="1.6" r="1.5" fill="#ff6600" stroke="#333" stroke-width="0.25"/>
<path d="M72.2,13.9L71.68,7.92A6,6 0 0 1 78.11,14.94Z" fill="#ff0000" stroke="#333" stroke-width="0.2"/>
<path d="M72.2,13.9L78.11,14.94A6,6 0 0 1 67.29,17.34Z" fill="#d2b48c" stroke="#333" stroke-width="0.2"/>
<path d="M72.2,13.9L67.29,17.34A6,6 0 0 1 67.00,10.90Z" fill="#ff6600" stroke="#333" stroke-width="0.2"/>
<path d="M72.2,13.9L67.00,10.90A6,6 0 0 1 68.76,8.99Z" fill="#ffff00" stroke="#333" stroke-width="0.2"/>
<path d="M72.2,13.9L68.76,8.99A6,6 0 0 1 71.68,7.92Z" fill="#ff0000" stroke="#333" stroke-width="0.2"/>
<circle cx="72.2" cy="13.9" r="6" fill="none" stroke="#333" stroke-width="0.25"/>
<path d="M40.9,22.6L40.90,21.10A1.5,1.5 0 1 1 39.40,22.60Z" fill="#d2b48c" stroke="#333" stroke-width="0.2"/>
<path d="M40.9,22.6L39.40,22.60A1.5,1.5 0 0 1 40.90,21.10Z" fill="#ff0000" stroke="#333" stroke-width="0.2"/>
<circle cx="40.9" cy="22.6" r="1.5" fill="none" stroke="#333" stroke-width="0.25"/>
<path d="M52.5,29.3L52.50,33.80A4.5,4.5 0 1 1 52.89,24.82Z" fill="#00ffff" stroke="#333" stroke-width="0.2"/>
<path d="M52.5,29.3L52.89,24.82A4.5,4.5 0 0 1 54.04,25.07Z" fill="#ffff00" stroke="#333" stroke-width="0.2"/>
<path d="M52.5,29.3L54.04,25.07A4.5,4.5 0 0 1 56.93,30.08Z" fill="#ff0000" stroke="#333" stroke-width="0.2"/>
<path d="M52.5,29.3L56.93,30.08A4.5,4.5 0 0 1 55.39,32.75Z" fill="#ff00ff" stroke="#333" stroke-width="0.2"/>
<path d="M52.5,29.3L55.39,32.75A4.5,4.5 0 0 1 52.50,33.80Z" fill="#00ffff" stroke="#333" stroke-width="0.2"/>
<circle cx="52.5" cy="29.3" r="4.5" fill="none" stroke="#333" stroke-width="0.25"/>
<path d="M89.7,27.9L89.70,25.60A2.3,2.3 0 0 1 91.86,28.69Z" fill="#ff0000" stroke="#333" stroke-width="0.2"/>
<path d="M89.7,27.9L91.86,28.69A2.3,2.3 0 0 1 90.85,29.89Z" fill="#00ffff" stroke="#333" stroke-width="0.2"/>
<path d="M89.7,27.9L90.85,29.89A2.3,2.3 0 1 1 89.70,25.60Z" fill="#ff0000" stroke="#333" stroke-width="0.2"/>
<circle cx="89.7" cy="27.9" r="2.3" fill="none" stroke="#333" stroke-width="0.25"/>
<path d="M98.5,26.4L98.50,28.90A2.5,2.5 0 1 1 100.67,27.65Z" fill="#ff6600" stroke="#333" stroke-width="0.2"/>
<path d="M98.5,26.4L100.67,27.65A2.5,2.5 0 0 1 98.50,28.90Z" fill="#00ffff" stroke="#333" stroke-width="0.2"/>
<circle cx="98.5" cy="26.4" r="2.5" fill="none" stroke="#333" stroke-width="0.25"/>
<path d="M95.2,35.7L92.50,35.70A2.7,2.7 0 0 1 97.90,35.70Z" fill="#00ffff" stroke="#333" stroke-width="0.2"/>
<path d="M95.2,35.7L97.90,35.70A2.7,2.7 0 0 1 97.54,37.05Z" fill="#ff0000" stroke="#333" stroke-width="0.2"/>
<path d="M95.2,35.7L97.54,37.05A2.7,2.7 0 0 1 92.50,35.70Z" fill="#d2b48c" stroke="#333" stroke-width="0.2"/>
<circle cx="95.2" cy="35.7" r="2.7" fill="none" stroke="#333" stroke-width="0.25"/>
<circle cx="111.6" cy="30.3" r="1.6" fill="#0000ff" stroke="#333" stroke-width="0.25"/>
<path d="M123.4,26.8L123.40,22.40A4.4,4.4 0 0 1 127.78,27.18Z" fill="#0000ff" stroke="#333" stroke-width="0.2"/>
<path d="M123.4,26.8L127.78,27.18A4.4,4.4 0 0 1 123.40,31.20Z" fill="#d2b48c" stroke="#333" stroke-width="0.2"/>
<path d="M123.4,26.8L123.40,31.20A4.4,4.4 0 0 1 122.26,31.05Z" fill="#ff00ff" stroke="#333" stroke-width="0.2"/>
<path d="M123.4,26.8L122.26,31.05A4.4,4.4 0 0 1 121.20,22.99Z" fill="#ff6600" stroke="#333" stroke-width="0.2"/>
<path d="M123.4,26.8L121.20,22.99A4.4,4.4 0 0 1 122.64,22.47Z" fill="#ffff00" stroke="#333" stroke-width="0.2"/>
<path d="M123.4,26.8L122.64,22.47A4.4,4.4 0 0 1 123.40,22.40Z" fill="#ff0000" stroke="#333" stroke-width="0.2"/>
<circle cx="123.4" cy="26.8" r="4.4" fill="none" stroke="#333" stroke-width="0.25"/>
<circle cx="126.8" cy="16.5" r="1.6" fill="#ff6600" stroke="#333" stroke-width="0.25"/>
<circle cx="114.2" cy="34.9" r="1.5" fill="#ff6600" stroke="#333" stroke-width="0.25"/>
<path d="M122.9,37.7L122.90,35.50A2.2,2.2 0 0 1 124.81,38.80Z" fill="#0000ff" stroke="#333" stroke-width="0.2"/>
<path d="M122.9,37.7L124.81,38.80A2.2,2.2 0 0 1 124.00,39.61Z" fill="#ff0000" stroke="#333" stroke-width="0.2"/>
<path d="M122.9,37.7L124.00,39.61A2.2,2.2 0 1 1 122.90,35.50Z" fill="#0000ff" stroke="#333" stroke-width="0.2"/>
<circle cx="122.9" cy="37.7" r="2.2" fill="none" stroke="#333" stroke-width="0.25"/>
<path d="M64.6,45.8L65.66,41.84A4.1,4.1 0 0 1 68.56,44.74Z" fill="#ff0000" stroke="#333" stroke-width="0.2"/>
<path d="M64.6,45.8L68.56,44.74A4.1,4.1 0 0 1 68.64,46.51Z" fill="#0000ff" stroke="#333" stroke-width="0.2"/>
<path d="M64.6,45.8L68.64,46.51A4.1,4.1 0 0 1 63.89,49.84Z" fill="#d2b48c" stroke="#333" stroke-width="0.2"/>
<path d="M64.6,45.8L63.89,49.84A4.1,4.1 0 0 1 62.87,42.08Z" fill="#00ffff" stroke="#333" stroke-width="0.2"/>
<path d="M64.6,45.8L62.87,42.08A4.1,4.1 0 0 1 65.66,41.84Z" fill="#ffff00" stroke="#333" stroke-width="0.2"/>
<circle cx="64.6" cy="45.8" r="4.1" fill="none" stroke="#333" stroke-width="0.25"/>
<circle cx="86.6" cy="47.8" r="1.5" fill="#0000ff" stroke="#333" stroke-width="0.25"/>
<circle cx="78.4" cy="58" r="3.2" fill="#0000ff" stroke="#333" stroke-width="0.25"/>
<circle cx="101.7" cy="50" r="1.6" fill="#0000ff" stroke="#333" stroke-width="0.25"/>
<path d="M104.6,55.8L104.60,54.20A1.6,1.6 0 1 1 104.05,57.30Z" fill="#0000ff" stroke="#333" stroke-width="0.2"/>
<path d="M104.6,55.8L104.05,57.30A1.6,1.6 0 0 1 103.21,56.60Z" fill="#ff0000" stroke="#333" stroke-width="0.2"/>
<path d="M104.6,55.8L103.21,56.60A1.6,1.6 0 0 1 104.60,54.20Z" fill="#0000ff" stroke="#333" stroke-width="0.2"/>
<circle cx="104.6" cy="55.8" r="1.6" fill="none" stroke="#333" stroke-width="0.25"/>
<path d="M111,56.6L111.00,55.00A1.6,1.6 0 0 1 112.39,57.40Z" fill="#0000ff" stroke="#333" stroke-width="0.2"/>
<path d="M111,56.6L112.39,57.40A1.6,1.6 0 0 1 111.28,58.18Z" fill="#ff0000" stroke="#333" stroke-width="0.2"/>
<path d="M111,56.6L111.28,58.18A1.6,1.6 0 1 1 111.00,55.00Z" fill="#0000ff" stroke="#333" stroke-width="0.2"/>
<circle cx="111" cy="56.6" r="1.6" fill="none" stroke="#333" stroke-width="0.25"/>
<path d="M46.8,61.7L46.80,60.30A1.4,1.4 0 0 1 48.18,61.94Z" fill="#0000ff" stroke="#333" stroke-width="0.2"/>
<path d="M46.8,61.7L48.18,61.94A1.4,1.4 0 0 1 47.70,62.77Z" fill="#ff0000" stroke="#333" stroke-width="0.2"/>
<path d="M46.8,61.7L47.70,62.77A1.4,1.4 0 1 1 46.80,60.30Z" fill="#0000ff" stroke="#333" stroke-width="0.2"/>
<circle cx="46.8" cy="61.7" r="1.4" fill="none" stroke="#333" stroke-width="0.25"/>
<path d="M49.3,68L49.30,65.80A2.2,2.2 0 0 1 51.47,67.62Z" fill="#0000ff" stroke="#333" stroke-width="0.2"/>
<path d="M49.3,68L51.47,67.62A2.2,2.2 0 0 1 51.37,68.75Z" fill="#ff0000" stroke="#333" stroke-width="0.2"/>
<path d="M49.3,68L51.37,68.75A2.2,2.2 0 1 1 49.30,65.80Z" fill="#0000ff" stroke="#333" stroke-width="0.2"/>
<circle cx="49.3" cy="68" r="2.2" fill="none" stroke="#333" stroke-width="0.25"/>
<path d="M65.5,70.8L65.50,68.00A2.8,2.8 0 0 1 68.26,70.31Z" fill="#0000ff" stroke="#333" stroke-width="0.2"/>
<path d="M65.5,70.8L68.26,70.31A2.8,2.8 0 0 1 68.26,71.29Z" fill="#ff0000" stroke="#333" stroke-width="0.2"/>
<path d="M65.5,70.8L68.26,71.29A2.8,2.8 0 1 1 65.50,68.00Z" fill="#0000ff" stroke="#333" stroke-width="0.2"/>
<circle cx="65.5" cy="70.8" r="2.8" fill="none" stroke="#333" stroke-width="0.25"/>
<path d="M51.7,75.2L51.70,73.20A2,2 0 0 1 53.67,75.55Z" fill="#0000ff" stroke="#333" stroke-width="0.2"/>
<path d="M51.7,75.2L53.67,75.55A2,2 0 0 1 53.23,76.49Z" fill="#ff0000" stroke="#333" stroke-width="0.2"/>
<path d="M51.7,75.2L53.23,76.49A2,2 0 1 1 51.70,73.20Z" fill="#0000ff" stroke="#333" stroke-width="0.2"/>
<circle cx="51.7" cy="75.2" r="2" fill="none" stroke="#333" stroke-width="0.25"/>
<path d="M58.7,80.2L58.70,78.80A1.4,1.4 0 0 1 60.08,80.44Z" fill="#0000ff" stroke="#333" stroke-width="0.2"/>
<path d="M58.7,80.2L60.08,80.44A1.4,1.4 0 0 1 59.77,81.10Z" fill="#ff0000" stroke="#333" stroke-width="0.2"/>
<path d="M58.7,80.2L59.77,81.10A1.4,1.4 0 1 1 58.70,78.80Z" fill="#0000ff" stroke="#333" stroke-width="0.2"/>
<circle cx="58.7" cy="80.2" r="1.4" fill="none" stroke="#333" stroke-width="0.25"/>
<circle cx="70.2" cy="85.5" r="2.9" fill="#0000ff" stroke="#333" stroke-width="0.25"/>
<path d="M84.6,88.1L84.60,84.80A3.3,3.3 0 0 1 87.85,87.53Z" fill="#0000ff" stroke="#333" stroke-width="0.2"/>
<path d="M84.6,88.1L87.85,87.53A3.3,3.3 0 0 1 87.89,88.39Z" fill="#ff0000" stroke="#333" stroke-width="0.2"/>
<path d="M84.6,88.1L87.89,88.39A3.3,3.3 0 1 1 84.60,84.80Z" fill="#0000ff" stroke="#333" stroke-width="0.2"/>
<circle cx="84.6" cy="88.1" r="3.3" fill="none" stroke="#333" stroke-width="0.25"/>
<circle cx="92.9" cy="65.5" r="2" fill="#0000ff" stroke="#333" stroke-width="0.25"/>
<circle cx="98.5" cy="72.5" r="1.5" fill="#0000ff" stroke="#333" stroke-width="0.25"/>
<path d="M102,80.8L102.00,78.30A2.5,2.5 0 0 1 104.46,80.37Z" fill="#0000ff" stroke="#333" stroke-width="0.2"/>
<path d="M102,80.8L104.46,80.37A2.5,2.5 0 0 1 104.35,81.66Z" fill="#ff0000" stroke="#333" stroke-width="0.2"/>
<path d="M102,80.8L104.35,81.66A2.5,2.5 0 1 1 102.00,78.30Z" fill="#0000ff" stroke="#333" stroke-width="0.2"/>
<circle cx="102" cy="80.8" r="2.5" fill="none" stroke="#333" stroke-width="0.25"/>
<circle cx="111" cy="82" r="1.6" fill="#0000ff" stroke="#333" stroke-width="0.25"/>
<path d="M80.9,107.2L79.40,107.20A1.5,1.5 0 0 1 80.90,105.70Z" fill="#00ffff" stroke="#333" stroke-width="0.2"/>
<path d="M80.9,107.2L80.90,108.70A1.5,1.5 0 0 1 79.40,107.20Z" fill="#ff00ff" stroke="#333" stroke-width="0.2"/>
<path d="M80.9,107.2L80.90,105.70A1.5,1.5 0 0 1 80.90,108.70Z" fill="#00ffff" stroke="#333" stroke-width="0.2"/>
<circle cx="80.9" cy="107.2" r="1.5" fill="none" stroke="#333" stroke-width="0.25"/>
<circle cx="65.5" cy="114.1" r="2" fill="#ff6600" stroke="#333" stroke-width="0.25"/>
<path d="M50.1,127.6L51.26,131.95A4.5,4.5 0 1 1 54.60,127.60Z" fill="#ff6600" stroke="#333" stroke-width="0.2"/>
<path d="M50.1,127.6L54.60,127.76A4.5,4.5 0 0 1 51.26,131.95Z" fill="#a0a0a0" stroke="#333" stroke-width="0.2"/>
<path d="M50.1,127.6L54.60,127.44A4.5,4.5 0 0 1 54.59,127.84Z" fill="#000000" stroke="#333" stroke-width="0.2"/>
<circle cx="50.1" cy="127.6" r="4.5" fill="none" stroke="#333" stroke-width="0.25"/>
<path d="M60.1,137.6L60.10,136.00A1.6,1.6 0 1 1 58.71,136.80Z" fill="#ff6600" stroke="#333" stroke-width="0.2"/>
<path d="M60.1,137.6L58.71,136.80A1.6,1.6 0 0 1 59.30,136.21Z" fill="#ff0000" stroke="#333" stroke-width="0.2"/>
<path d="M60.1,137.6L59.30,136.21A1.6,1.6 0 0 1 60.10,136.00Z" fill="#ff6600" stroke="#333" stroke-width="0.2"/>
<circle cx="60.1" cy="137.6" r="1.6" fill="none" stroke="#333" stroke-width="0.25"/>
<path d="M33.1,138.4L32.58,132.42A6,6 0 0 1 33.62,132.42Z" fill="#ff6600" stroke="#333" stroke-width="0.2"/>
<path d="M33.1,138.4L33.62,132.42A6,6 0 0 1 38.01,134.96Z" fill="#ffff00" stroke="#333" stroke-width="0.2"/>
<path d="M33.1,138.4L38.01,134.96A6,6 0 0 1 39.08,137.88Z" fill="#ff0000" stroke="#333" stroke-width="0.2"/>
<path d="M33.1,138.4L39.08,137.88A6,6 0 0 1 39.10,138.40Z" fill="#0000ff" stroke="#333" stroke-width="0.2"/>
<path d="M33.1,138.4L39.10,138.40A6,6 0 0 1 27.46,140.45Z" fill="#d2b48c" stroke="#333" stroke-width="0.2"/>
<path d="M33.1,138.4L27.46,140.45A6,6 0 0 1 27.23,139.65Z" fill="#ff00ff" stroke="#333" stroke-width="0.2"/>
<path d="M33.1,138.4L27.23,139.65A6,6 0 0 1 32.58,132.42Z" fill="#00ffff" stroke="#333" stroke-width="0.2"/>
<circle cx="33.1" cy="138.4" r="6" fill="none" stroke="#333" stroke-width="0.25"/>
<path d="M16.4,141L16.40,138.80A2.2,2.2 0 1 1 14.49,139.90Z" fill="#ff6600" stroke="#333" stroke-width="0.2"/>
<path d="M16.4,141L14.49,139.90A2.2,2.2 0 0 1 14.99,139.31Z" fill="#ff0000" stroke="#333" stroke-width="0.2"/>
<path d="M16.4,141L14.99,139.31A2.2,2.2 0 0 1 16.40,138.80Z" fill="#ff6600" stroke="#333" stroke-width="0.2"/>
<circle cx="16.4" cy="141" r="2.2" fill="none" stroke="#333" stroke-width="0.25"/>
<circle cx="8.2" cy="144" r="1.6" fill="#ff6600" stroke="#333" stroke-width="0.25"/>
<path d="M109,118.5L109.00,115.60A2.9,2.9 0 0 1 111.51,119.95Z" fill="#0000ff" stroke="#333" stroke-width="0.2"/>
<path d="M109,118.5L111.51,119.95A2.9,2.9 0 0 1 109.99,121.23Z" fill="#ff6600" stroke="#333" stroke-width="0.2"/>
<path d="M109,118.5L109.99,121.23A2.9,2.9 0 1 1 109.00,115.60Z" fill="#0000ff" stroke="#333" stroke-width="0.2"/>
<circle cx="109" cy="118.5" r="2.9" fill="none" stroke="#333" stroke-width="0.25"/>
<circle cx="98.8" cy="121.7" r="1.3" fill="#00ffff"/>
<circle cx="98.8" cy="121.7" r="1.3" fill="none" stroke="#333" stroke-width="0.25"/>
<path d="M91.2,137.3L88.25,132.19A5.9,5.9 0 0 1 91.20,131.40Z" fill="#ffff00" stroke="#333" stroke-width="0.2"/>
<path d="M91.2,137.3L91.20,131.40A5.9,5.9 0 0 1 97.10,137.30Z" fill="#ff0000" stroke="#333" stroke-width="0.2"/>
<path d="M91.2,137.3L97.10,137.09A5.9,5.9 0 0 1 97.10,137.51Z" fill="#0000ff" stroke="#333" stroke-width="0.2"/>
<path d="M91.2,137.3L97.10,137.51A5.9,5.9 0 0 1 90.18,143.11Z" fill="#d2b48c" stroke="#333" stroke-width="0.2"/>
<path d="M91.2,137.3L90.18,143.11A5.9,5.9 0 0 1 89.18,142.84Z" fill="#ff00ff" stroke="#333" stroke-width="0.2"/>
<path d="M91.2,137.3L89.18,142.84A5.9,5.9 0 0 1 88.25,132.19Z" fill="#00ffff" stroke="#333" stroke-width="0.2"/>
<circle cx="91.2" cy="137.3" r="5.9" fill="none" stroke="#333" stroke-width="0.25"/>
<path d="M112,149.5L112.99,142.47A7.1,7.1 0 0 1 115.33,143.23Z" fill="#ff0000" stroke="#333" stroke-width="0.2"/>
<path d="M112,149.5L112.00,142.40A7.1,7.1 0 0 1 112.99,142.47Z" fill="#ffff00" stroke="#333" stroke-width="0.2"/>
<path d="M112,149.5L115.33,143.23A7.1,7.1 0 0 1 119.10,149.25Z" fill="#0000ff" stroke="#333" stroke-width="0.2"/>
<path d="M112,149.5L119.10,149.25A7.1,7.1 0 0 1 117.02,154.52Z" fill="#d2b48c" stroke="#333" stroke-width="0.2"/>
<path d="M112,149.5L117.02,154.52A7.1,7.1 0 0 1 115.55,155.65Z" fill="#ff00ff" stroke="#333" stroke-width="0.2"/>
<path d="M112,149.5L115.55,155.65A7.1,7.1 0 0 1 109.57,156.17Z" fill="#00ffff" stroke="#333" stroke-width="0.2"/>
<path d="M112,149.5L109.57,156.17A7.1,7.1 0 0 1 112.00,142.40Z" fill="#ff6600" stroke="#333" stroke-width="0.2"/>
<circle cx="112" cy="149.5" r="7.1" fill="none" stroke="#333" stroke-width="0.25"/>
<path d="M95.8,155.7L95.80,153.50A2.2,2.2 0 0 1 97.97,156.08Z" fill="#0000ff" stroke="#333" stroke-width="0.2"/>
<path d="M95.8,155.7L97.97,156.08A2.2,2.2 0 0 1 97.21,157.39Z" fill="#ff0000" stroke="#333" stroke-width="0.2"/>
<path d="M95.8,155.7L97.21,157.39A2.2,2.2 0 0 1 96.55,157.77Z" fill="#ff00ff" stroke="#333" stroke-width="0.2"/>
<path d="M95.8,155.7L96.55,157.77A2.2,2.2 0 1 1 95.80,153.50Z" fill="#0000ff" stroke="#333" stroke-width="0.2"/>
<circle cx="95.8" cy="155.7" r="2.2" fill="none" stroke="#333" stroke-width="0.25"/>
<path d="M128.4,139.3L126.41,138.15A2.3,2.3 0 0 1 130.67,138.90Z" fill="#ff0000" stroke="#333" stroke-width="0.2"/>
<path d="M128.4,139.3L130.67,138.90A2.3,2.3 0 0 1 130.67,139.70Z" fill="#ff6600" stroke="#333" stroke-width="0.2"/>
<path d="M128.4,139.3L130.67,139.70A2.3,2.3 0 0 1 126.41,140.45Z" fill="#00ffff" stroke="#333" stroke-width="0.2"/>
<path d="M128.4,139.3L126.41,140.45A2.3,2.3 0 0 1 126.41,138.15Z" fill="#ff6600" stroke="#333" stroke-width="0.2"/>
<circle cx="128.4" cy="139.3" r="2.3" fill="none" stroke="#333" stroke-width="0.25"/>
<path d="M155.2,136.7L151.95,126.09A11.1,11.1 0 0 1 154.81,125.61Z" fill="#ffff00" stroke="#333" stroke-width="0.2"/>
<path d="M155.2,136.7L154.81,125.61A11.1,11.1 0 0 1 165.87,133.64Z" fill="#ff0000" stroke="#333" stroke-width="0.2"/>
<path d="M155.2,136.7L165.87,133.64A11.1,11.1 0 0 1 166.30,136.70Z" fill="#0000ff" stroke="#333" stroke-width="0.2"/>
<path d="M155.2,136.7L166.30,136.70A11.1,11.1 0 0 1 162.63,144.95Z" fill="#d2b48c" stroke="#333" stroke-width="0.2"/>
<path d="M155.2,136.7L162.63,144.95A11.1,11.1 0 0 1 158.63,147.26Z" fill="#ff00ff" stroke="#333" stroke-width="0.2"/>
<path d="M155.2,136.7L158.63,147.26A11.1,11.1 0 0 1 144.24,138.44Z" fill="#00ffff" stroke="#333" stroke-width="0.2"/>
<path d="M155.2,136.7L144.24,138.44A11.1,11.1 0 0 1 151.95,126.09Z" fill="#ff6600" stroke="#333" stroke-width="0.2"/>
<circle cx="155.2" cy="136.7" r="11.1" fill="none" stroke="#333" stroke-width="0.25"/>
<circle cx="149.8" cy="108.4" r="2.2" fill="#ff6600" stroke="#333" stroke-width="0.25"/>
<circle cx="162.7" cy="108" r="1.5" fill="#00ffff"/>
<path d="M162.7,108L164.20,108.00A1.5,1.5 0 0 1 162.19,109.41Z" fill="#d2b48c" stroke="#333" stroke-width="0.2"/>
<circle cx="162.7" cy="108" r="1.5" fill="none" stroke="#333" stroke-width="0.25"/>
<path d="M181.5,122.6L181.50,119.50A3.1,3.1 0 0 1 184.55,123.14Z" fill="#ff0000" stroke="#333" stroke-width="0.2"/>
<path d="M181.5,122.6L183.05,125.28A3.1,3.1 0 0 1 180.96,125.65Z" fill="#ff00ff" stroke="#333" stroke-width="0.2"/>
<path d="M181.5,122.6L180.96,125.65A3.1,3.1 0 0 1 180.44,119.69Z" fill="#00ffff" stroke="#333" stroke-width="0.2"/>
<path d="M181.5,122.6L180.44,119.69A3.1,3.1 0 0 1 181.50,119.50Z" fill="#ffff00" stroke="#333" stroke-width="0.2"/>
<path d="M181.5,122.6L184.55,123.14A3.1,3.1 0 0 1 183.05,125.28Z" fill="#ff6600" stroke="#333" stroke-width="0.2"/>
<circle cx="181.5" cy="122.6" r="3.1" fill="none" stroke="#333" stroke-width="0.25"/>
<path d="M173.9,157.5L171.30,157.50A2.6,2.6 0 0 1 176.50,157.50Z" fill="#ff0000" stroke="#333" stroke-width="0.2"/>
<path d="M173.9,157.5L176.50,157.50A2.6,2.6 0 0 1 171.30,157.50Z" fill="#00ffff" stroke="#333" stroke-width="0.2"/>
<circle cx="173.9" cy="157.5" r="2.6" fill="none" stroke="#333" stroke-width="0.25"/>
<path d="M144.3,160.8L144.30,162.30A1.5,1.5 0 1 1 145.80,160.80Z" fill="#d2b48c" stroke="#333" stroke-width="0.2"/>
<path d="M144.3,160.8L145.80,160.80A1.5,1.5 0 0 1 144.30,162.30Z" fill="#ffff00" stroke="#333" stroke-width="0.2"/>
<circle cx="144.3" cy="160.8" r="1.5" fill="none" stroke="#333" stroke-width="0.25"/>
<path d="M118.8,172.5L118.23,166.02A6.5,6.5 0 0 1 121.55,166.61Z" fill="#ffff00" stroke="#333" stroke-width="0.2"/>
<path d="M118.8,172.5L121.55,166.61A6.5,6.5 0 0 1 125.28,171.93Z" fill="#ff0000" stroke="#333" stroke-width="0.2"/>
<path d="M118.8,172.5L125.28,171.93A6.5,6.5 0 0 1 125.30,172.50Z" fill="#0000ff" stroke="#333" stroke-width="0.2"/>
<path d="M118.8,172.5L125.30,172.50A6.5,6.5 0 0 1 123.78,176.68Z" fill="#d2b48c" stroke="#333" stroke-width="0.2"/>
<path d="M118.8,172.5L123.78,176.68A6.5,6.5 0 0 1 120.48,178.78Z" fill="#ff00ff" stroke="#333" stroke-width="0.2"/>
<path d="M118.8,172.5L120.48,178.78A6.5,6.5 0 1 1 118.23,166.02Z" fill="#00ffff" stroke="#333" stroke-width="0.2"/>
<circle cx="118.8" cy="172.5" r="6.5" fill="none" stroke="#333" stroke-width="0.25"/>
<path d="M113.2,189L111.60,189.00A1.6,1.6 0 0 1 114.80,189.00Z" fill="#ff0000" stroke="#333" stroke-width="0.2"/>
<path d="M113.2,189L114.80,189.00A1.6,1.6 0 0 1 111.60,189.00Z" fill="#00ffff" stroke="#333" stroke-width="0.2"/>
<circle cx="113.2" cy="189" r="1.6" fill="none" stroke="#333" stroke-width="0.25"/>
<text x="53" y="3.9" class="nl" text-anchor="middle">H50</text>
<text x="84.3" y="15.4" class="nl" text-anchor="middle">H34</text>
<text x="40.8" y="20" class="nl" text-anchor="middle">H39</text>
<text x="44" y="36.2" class="nl" text-anchor="middle">H30</text>
<text x="81.9" y="29.4" class="nl" text-anchor="middle">H35</text>
<text x="99.7" y="22.4" class="nl" text-anchor="middle">H45</text>
<text x="86.1" y="37.6" class="nl" text-anchor="middle">H38</text>
<text x="111.7" y="26.9" class="nl" text-anchor="middle">H22</text>
<text x="132.1" y="28.9" class="nl" text-anchor="middle">H4</text>
<text x="134.2" y="18.1" class="nl" text-anchor="middle">H49</text>
<text x="111.9" y="41.4" class="nl" text-anchor="middle">H32</text>
<text x="129.4" y="39.2" class="nl" text-anchor="middle">H8</text>
<text x="54.4" y="49.1" class="nl" text-anchor="middle">H26</text>
<text x="84.5" y="45.9" class="nl" text-anchor="middle">H28</text>
<text x="107.8" y="50.9" class="nl" text-anchor="middle">H20</text>
<text x="102" y="60.8" class="nl" text-anchor="middle">H29</text>
<text x="118.4" y="57.9" class="nl" text-anchor="middle">H18</text>
<text x="47.9" y="59.3" class="nl" text-anchor="middle">H27</text>
<text x="43.2" y="70.6" class="nl" text-anchor="middle">H12</text>
<text x="61.5" y="68.3" class="nl" text-anchor="middle">H6</text>
<text x="46" y="78.8" class="nl" text-anchor="middle">H9</text>
<text x="53.1" y="84.7" class="nl" text-anchor="middle">H31</text>
<text x="64" y="90.2" class="nl" text-anchor="middle">H16</text>
<text x="79.5" y="94.1" class="nl" text-anchor="middle">H2</text>
<text x="98.8" y="67" class="nl" text-anchor="middle">H7</text>
<text x="105.7" y="73.1" class="nl" text-anchor="middle">H11</text>
<text x="102" y="86.7" class="nl" text-anchor="middle">H14</text>
<text x="118.1" y="83.2" class="nl" text-anchor="middle">H21</text>
<text x="87.1" y="108.8" class="nl" text-anchor="middle">H33</text>
<text x="72.8" y="116.7" class="nl" text-anchor="middle">H48</text>
<text x="60.1" y="128.9" class="nl" text-anchor="middle">H23</text>
<text x="66" y="138.8" class="nl" text-anchor="middle">H44</text>
<text x="32.5" y="130.6" class="nl" text-anchor="middle">H19</text>
<text x="19" y="147.2" class="nl" text-anchor="middle">H51</text>
<text x="4" y="140.8" class="nl" text-anchor="middle">H46</text>
<text x="116.9" y="119.7" class="nl" text-anchor="middle">H15</text>
<text x="95.5" y="120" class="nl" text-anchor="middle">H40</text>
<text x="88.2" y="147.4" class="nl" text-anchor="middle">H17</text>
<text x="123.9" y="152.9" class="nl" text-anchor="middle">H13</text>
<text x="88.8" y="157.9" class="nl" text-anchor="middle">H1</text>
<text x="126.2" y="136.5" class="nl" text-anchor="middle">H25</text>
<text x="170.9" y="138.8" class="nl" text-anchor="middle">H9</text>
<text x="141" y="110.6" class="nl" text-anchor="middle">H43</text>
<text x="169.7" y="109.9" class="nl" text-anchor="middle">H42</text>
<text x="190.9" y="124.4" class="nl" text-anchor="middle">H24</text>
<text x="174.8" y="164" class="nl" text-anchor="middle">H37</text>
<text x="150.6" y="162.3" class="nl" text-anchor="middle">H41</text>
<text x="130.4" y="175" class="nl" text-anchor="middle">H10</text>
<text x="120" y="190.9" class="nl" text-anchor="middle">H36</text>
<text x="37.5" y="116" class="nl" text-anchor="middle">H53</text>
<text x="46.4" y="143" class="nl" text-anchor="middle">H52</text>
<text x="92.6" y="60.2" class="nl" text-anchor="middle">H3</text>
<text x="71.2" y="75.8" class="nl" text-anchor="middle">H47</text>
<g stroke="#000" stroke-width="0.8" fill="#000">
<line x1="89.2" y1="58.3" x2="84" y2="58.3"/><path d="M82.2,58.3 l2.6,-1.3 v2.6z" stroke="none"/>
<line x1="49" y1="94" x2="68.3" y2="78.2"/><path d="M69.5,77.2 l-2.5,0.6 l1.2,1.6z" stroke="none"/>
<path d="M74,126 Q70,127.6 66.2,127.8" fill="none"/><path d="M64.8,127.8 l2,-1.1 v2.2z" stroke="none"/>
</g>
<text x="47.6" y="96.8" class="tiny" text-anchor="middle">Denisova 3</text>
<text x="80.9" y="124.7" class="tiny" text-anchor="middle">All 3 Neanderthals</text>
<text x="267.6" y="60.7" class="lab" text-anchor="middle">(A)</text>
<rect x="225.5" y="65.5" width="85.2" height="98" fill="#fff" stroke="#98a6b6" stroke-width="0.9"/>
<circle cx="267.9" cy="68.2" r="1.2" fill="none" stroke="#456" stroke-width="0.35"/>
<text x="267.8" y="71.9" text-anchor="middle" style="font-size:2.45px;font-weight:bold;fill:#000;stroke:#000;stroke-width:0.15px">10 Samples</text>
<rect x="228.9" y="75.70" width="8.4" height="4" fill="#0000ff" stroke="#222" stroke-width="0.4"/>
<text x="241" y="79.00" class="lg">Africa</text>
<rect x="228.9" y="82.97" width="8.4" height="4" fill="#ff0000" stroke="#222" stroke-width="0.4"/>
<text x="241" y="86.27" class="lg">America</text>
<rect x="228.9" y="90.24" width="8.4" height="4" fill="#ffff00" stroke="#222" stroke-width="0.4"/>
<text x="241" y="93.54" class="lg">Central South Asia</text>
<rect x="228.9" y="97.51" width="8.4" height="4" fill="#ff6600" stroke="#222" stroke-width="0.4"/>
<text x="241" y="100.81" class="lg">East Asia</text>
<rect x="228.9" y="104.78" width="8.4" height="4" fill="#00ffff" stroke="#222" stroke-width="0.4"/>
<text x="241" y="108.08" class="lg">Europe</text>
<rect x="228.9" y="112.05" width="8.4" height="4" fill="#ff00ff" stroke="#222" stroke-width="0.4"/>
<text x="241" y="115.35" class="lg">Middle East</text>
<rect x="228.9" y="119.32" width="8.4" height="4" fill="#a0a0a0" stroke="#222" stroke-width="0.4"/>
<text x="241" y="122.62" class="lg">Oceania</text>
<rect x="228.9" y="126.59" width="8.4" height="4" fill="#d2b48c" stroke="#222" stroke-width="0.4"/>
<text x="241" y="129.89" class="lg">South Asia</text>
<rect x="228.9" y="133.86" width="8.4" height="4" fill="#1e90ff" stroke="#222" stroke-width="0.4"/>
<text x="241" y="137.16" class="lg">Altai Neanderthal</text>
<rect x="228.9" y="141.13" width="8.4" height="4" fill="#bf5fff" stroke="#222" stroke-width="0.4"/>
<text x="241" y="144.43" class="lg">Chagyrskaya Neanderthal</text>
<rect x="228.9" y="148.40" width="8.4" height="4" fill="#ffffff" stroke="#222" stroke-width="0.4"/>
<text x="241" y="151.70" class="lg">Vindija Neanderthal</text>
<rect x="228.9" y="155.67" width="8.4" height="4" fill="#000000" stroke="#222" stroke-width="0.4"/>
<text x="241" y="158.97" class="lg">Denisova 3</text>
</svg></body></html>
